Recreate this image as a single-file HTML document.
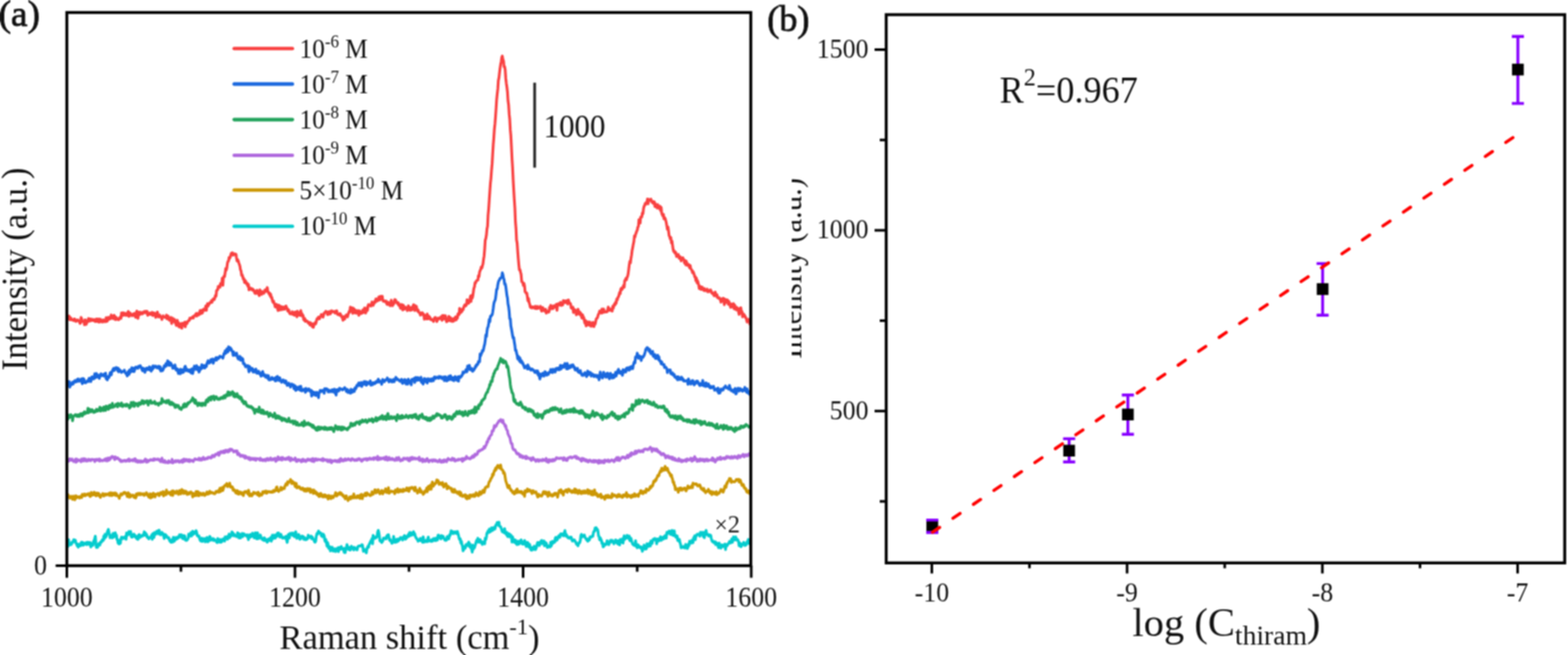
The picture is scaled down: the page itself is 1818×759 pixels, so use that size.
<!DOCTYPE html>
<html><head><meta charset="utf-8"><style>
html,body{margin:0;padding:0;background:#fff;}
svg{display:block;} 
text{font-family:"Liberation Serif","Times New Roman",serif;fill:#111;}
</style></head><body>
<svg width="1818" height="759" viewBox="0 0 1818 759">
<defs><clipPath id="cb"><rect x="918" y="0" width="120" height="759"/></clipPath>
<filter id="soft" filterUnits="userSpaceOnUse" x="0" y="0" width="1818" height="759" color-interpolation-filters="sRGB"><feConvolveMatrix order="3" kernelMatrix="0.0784 0.1232 0.0784 0.1232 0.1936 0.1232 0.0784 0.1232 0.0784" divisor="1" edgeMode="duplicate" preserveAlpha="true"/></filter></defs>
<g filter="url(#soft)">
<rect width="1818" height="759" fill="#fff"/>
<!-- panel a -->
<g fill="none" stroke-width="3.2" stroke-linejoin="round"><path d="M78.2,368.3 L78.9,369.4 L79.5,368.8 L80.2,366.2 L80.8,370.4 L81.5,369.9 L82.2,368.4 L82.8,370.7 L83.5,370.6 L84.1,370.7 L84.8,370.5 L85.5,371.6 L86.1,369.6 L86.8,370.8 L87.4,370.4 L88.1,372.5 L88.8,371.7 L89.4,371.3 L90.1,370.6 L90.7,371.7 L91.4,372.3 L92.1,371.9 L92.7,374.8 L93.4,374.4 L94.0,367.9 L94.7,369.4 L95.4,372.4 L96.0,371.9 L96.7,373.0 L97.3,373.0 L98.0,376.3 L98.7,370.5 L99.3,371.8 L100.0,375.9 L100.6,373.4 L101.3,373.3 L102.0,371.2 L102.6,369.1 L103.3,372.2 L103.9,372.1 L104.6,369.6 L105.3,370.5 L105.9,371.5 L106.6,369.9 L107.2,371.3 L107.9,371.5 L108.6,371.3 L109.2,370.3 L109.9,372.2 L110.5,372.6 L111.2,371.6 L111.9,369.6 L112.5,372.3 L113.2,370.2 L113.8,372.8 L114.5,369.6 L115.2,373.3 L115.8,371.9 L116.5,370.0 L117.1,371.8 L117.8,372.6 L118.5,373.1 L119.1,371.0 L119.8,370.7 L120.4,372.8 L121.1,371.4 L121.8,372.3 L122.4,372.8 L123.1,368.1 L123.7,371.0 L124.4,372.2 L125.1,369.0 L125.7,367.7 L126.4,370.0 L127.0,368.7 L127.7,369.5 L128.4,367.1 L129.0,365.0 L129.7,367.4 L130.3,366.9 L131.0,369.2 L131.7,368.4 L132.3,365.4 L133.0,366.4 L133.6,370.3 L134.3,370.2 L135.0,368.0 L135.6,369.3 L136.3,370.1 L136.9,370.0 L137.6,370.5 L138.3,369.1 L138.9,368.1 L139.6,367.3 L140.2,369.1 L140.9,362.7 L141.6,365.9 L142.2,365.6 L142.9,362.5 L143.5,365.1 L144.2,362.9 L144.9,365.2 L145.5,363.2 L146.2,364.5 L146.8,365.5 L147.5,364.0 L148.2,361.9 L148.8,360.9 L149.5,366.7 L150.1,363.6 L150.8,362.7 L151.5,364.4 L152.1,363.9 L152.8,365.9 L153.4,364.6 L154.1,364.7 L154.8,363.6 L155.4,365.7 L156.1,363.2 L156.7,366.2 L157.4,367.7 L158.1,362.2 L158.7,360.4 L159.4,365.7 L160.0,368.9 L160.7,362.4 L161.4,361.7 L162.0,364.7 L162.7,362.0 L163.3,362.3 L164.0,362.4 L164.7,363.8 L165.3,362.0 L166.0,363.1 L166.6,362.2 L167.3,361.0 L168.0,362.0 L168.6,360.9 L169.3,362.6 L169.9,360.7 L170.6,360.9 L171.3,365.5 L171.9,363.0 L172.6,363.1 L173.2,364.2 L173.9,362.7 L174.6,363.2 L175.2,364.5 L175.9,364.4 L176.5,362.0 L177.2,365.6 L177.9,363.3 L178.5,362.6 L179.2,363.0 L179.8,364.1 L180.5,367.8 L181.2,363.0 L181.8,365.5 L182.5,361.6 L183.1,365.6 L183.8,367.3 L184.5,365.5 L185.1,365.0 L185.8,366.6 L186.4,367.6 L187.1,367.7 L187.8,370.2 L188.4,367.3 L189.1,366.0 L189.7,367.0 L190.4,367.2 L191.1,367.7 L191.7,367.6 L192.4,368.1 L193.0,365.0 L193.7,369.5 L194.4,367.2 L195.0,366.3 L195.7,369.7 L196.3,371.1 L197.0,369.8 L197.7,369.5 L198.3,367.8 L199.0,374.9 L199.6,371.9 L200.3,368.9 L201.0,370.2 L201.6,372.3 L202.3,370.1 L202.9,373.9 L203.6,373.4 L204.3,377.0 L204.9,377.2 L205.6,371.2 L206.2,376.5 L206.9,373.9 L207.6,378.9 L208.2,377.3 L208.9,377.9 L209.5,375.0 L210.2,380.0 L210.9,380.2 L211.5,374.6 L212.2,377.0 L212.8,374.9 L213.5,375.8 L214.2,373.4 L214.8,378.7 L215.5,373.4 L216.1,374.2 L216.8,375.1 L217.5,372.5 L218.1,372.5 L218.8,371.3 L219.4,371.3 L220.1,368.7 L220.8,369.3 L221.4,369.0 L222.1,368.1 L222.7,368.3 L223.4,367.1 L224.1,368.6 L224.7,366.3 L225.4,366.3 L226.0,365.1 L226.7,365.0 L227.4,363.4 L228.0,366.3 L228.7,363.1 L229.3,363.5 L230.0,365.1 L230.7,364.8 L231.3,363.1 L232.0,359.8 L232.6,363.7 L233.3,362.9 L234.0,359.5 L234.6,362.8 L235.3,359.6 L235.9,358.3 L236.6,359.8 L237.3,358.6 L237.9,358.6 L238.6,354.5 L239.2,359.7 L239.9,354.5 L240.6,351.9 L241.2,354.8 L241.9,352.2 L242.5,352.6 L243.2,350.8 L243.9,350.6 L244.5,350.6 L245.2,348.3 L245.8,350.3 L246.5,347.7 L247.2,346.4 L247.8,347.3 L248.5,347.1 L249.1,345.0 L249.8,342.5 L250.5,343.2 L251.1,336.8 L251.8,335.8 L252.4,335.8 L253.1,331.9 L253.8,333.1 L254.4,331.9 L255.1,332.7 L255.7,328.5 L256.4,328.0 L257.1,328.6 L257.7,322.4 L258.4,330.6 L259.0,322.0 L259.7,319.9 L260.4,320.5 L261.0,316.6 L261.7,311.2 L262.3,313.0 L263.0,310.5 L263.7,305.1 L264.3,302.8 L265.0,302.4 L265.6,298.4 L266.3,299.4 L267.0,297.9 L267.6,295.3 L268.3,293.3 L268.9,294.7 L269.6,292.9 L270.3,295.7 L270.9,293.9 L271.6,294.9 L272.2,294.1 L272.9,295.2 L273.6,294.6 L274.2,298.7 L274.9,302.5 L275.5,300.7 L276.2,302.1 L276.9,304.7 L277.5,306.3 L278.2,308.4 L278.8,312.4 L279.5,314.1 L280.2,319.2 L280.8,318.5 L281.5,320.8 L282.1,323.5 L282.8,322.8 L283.5,327.3 L284.1,324.9 L284.8,325.8 L285.4,327.8 L286.1,329.4 L286.8,328.3 L287.4,331.7 L288.1,329.8 L288.7,336.0 L289.4,334.2 L290.1,333.8 L290.7,333.8 L291.4,335.2 L292.0,335.9 L292.7,334.8 L293.4,335.3 L294.0,337.0 L294.7,336.7 L295.3,339.5 L296.0,340.1 L296.7,338.3 L297.3,339.4 L298.0,336.4 L298.6,340.1 L299.3,339.2 L300.0,340.3 L300.6,342.5 L301.3,335.8 L301.9,340.4 L302.6,338.2 L303.3,341.2 L303.9,337.9 L304.6,339.2 L305.2,339.9 L305.9,340.0 L306.6,338.2 L307.2,335.9 L307.9,335.6 L308.5,337.6 L309.2,335.9 L309.9,333.2 L310.5,338.2 L311.2,338.4 L311.8,340.4 L312.5,339.5 L313.2,342.9 L313.8,340.9 L314.5,344.9 L315.1,344.4 L315.8,348.0 L316.5,350.2 L317.1,348.7 L317.8,351.3 L318.4,352.7 L319.1,355.7 L319.8,355.4 L320.4,352.6 L321.1,356.0 L321.7,357.0 L322.4,359.8 L323.1,353.5 L323.7,355.8 L324.4,359.3 L325.0,354.8 L325.7,355.2 L326.4,358.2 L327.0,358.9 L327.7,355.7 L328.3,357.4 L329.0,356.2 L329.7,358.4 L330.3,355.6 L331.0,357.5 L331.6,354.6 L332.3,356.5 L333.0,357.4 L333.6,360.5 L334.3,360.5 L334.9,359.2 L335.6,362.7 L336.3,363.7 L336.9,362.9 L337.6,363.3 L338.2,363.8 L338.9,361.2 L339.6,364.5 L340.2,364.5 L340.9,362.5 L341.5,365.3 L342.2,361.5 L342.9,362.8 L343.5,362.8 L344.2,367.1 L344.8,360.7 L345.5,364.4 L346.2,365.0 L346.8,364.0 L347.5,365.4 L348.1,361.7 L348.8,360.0 L349.5,366.0 L350.1,363.4 L350.8,365.9 L351.4,365.4 L352.1,370.3 L352.8,371.0 L353.4,369.0 L354.1,372.5 L354.7,371.6 L355.4,371.7 L356.1,372.5 L356.7,372.6 L357.4,374.5 L358.0,374.4 L358.7,373.7 L359.4,376.5 L360.0,374.0 L360.7,376.0 L361.3,376.5 L362.0,378.6 L362.7,375.2 L363.3,379.3 L364.0,376.5 L364.6,375.5 L365.3,374.0 L366.0,375.4 L366.6,373.4 L367.3,370.2 L367.9,369.0 L368.6,368.8 L369.3,367.4 L369.9,369.5 L370.6,369.1 L371.2,367.5 L371.9,366.2 L372.6,364.4 L373.2,364.8 L373.9,365.8 L374.5,367.6 L375.2,365.1 L375.9,362.6 L376.5,362.8 L377.2,361.6 L377.8,360.8 L378.5,361.5 L379.2,362.0 L379.8,364.6 L380.5,361.3 L381.1,363.4 L381.8,364.0 L382.5,361.0 L383.1,363.6 L383.8,362.1 L384.4,360.1 L385.1,361.4 L385.8,361.1 L386.4,360.9 L387.1,361.1 L387.7,361.9 L388.4,362.7 L389.1,360.7 L389.7,362.5 L390.4,360.1 L391.0,363.5 L391.7,364.5 L392.4,364.0 L393.0,364.5 L393.7,365.3 L394.3,363.4 L395.0,364.5 L395.7,366.2 L396.3,367.5 L397.0,366.9 L397.6,371.1 L398.3,366.8 L399.0,369.0 L399.6,369.7 L400.3,367.4 L400.9,366.1 L401.6,364.9 L402.3,366.5 L402.9,367.1 L403.6,364.4 L404.2,363.0 L404.9,360.8 L405.6,361.4 L406.2,355.8 L406.9,359.5 L407.5,359.1 L408.2,356.7 L408.9,363.1 L409.5,357.1 L410.2,358.0 L410.8,358.2 L411.5,362.6 L412.2,359.5 L412.8,362.7 L413.5,362.9 L414.1,362.6 L414.8,360.0 L415.5,361.4 L416.1,365.4 L416.8,360.2 L417.4,360.9 L418.1,361.9 L418.8,363.3 L419.4,362.1 L420.1,362.6 L420.7,359.1 L421.4,362.2 L422.1,361.2 L422.7,356.9 L423.4,362.0 L424.0,362.8 L424.7,357.0 L425.4,358.0 L426.0,359.9 L426.7,354.3 L427.3,352.9 L428.0,353.5 L428.7,354.1 L429.3,353.3 L430.0,354.7 L430.6,353.3 L431.3,349.9 L432.0,352.3 L432.6,353.9 L433.3,352.1 L433.9,351.1 L434.6,348.9 L435.3,350.2 L435.9,346.3 L436.6,348.8 L437.2,346.9 L437.9,348.6 L438.6,347.1 L439.2,344.0 L439.9,345.9 L440.5,347.6 L441.2,343.3 L441.9,344.3 L442.5,344.1 L443.2,343.2 L443.8,348.0 L444.5,349.2 L445.2,349.0 L445.8,348.7 L446.5,348.9 L447.1,350.0 L447.8,348.9 L448.5,352.3 L449.1,352.9 L449.8,352.9 L450.4,350.4 L451.1,351.4 L451.8,351.0 L452.4,354.3 L453.1,351.5 L453.7,347.8 L454.4,351.7 L455.1,354.2 L455.7,352.1 L456.4,352.3 L457.0,350.8 L457.7,347.2 L458.4,347.4 L459.0,348.3 L459.7,350.3 L460.3,351.0 L461.0,351.9 L461.7,350.6 L462.3,353.8 L463.0,352.7 L463.6,353.1 L464.3,357.1 L465.0,355.1 L465.6,352.9 L466.3,356.6 L466.9,359.1 L467.6,353.6 L468.3,358.3 L468.9,358.2 L469.6,356.2 L470.2,355.9 L470.9,357.4 L471.6,357.0 L472.2,360.0 L472.9,358.1 L473.5,354.4 L474.2,355.4 L474.9,357.9 L475.5,359.7 L476.2,356.8 L476.8,356.5 L477.5,359.1 L478.2,355.6 L478.8,355.1 L479.5,353.1 L480.1,354.9 L480.8,359.9 L481.5,354.0 L482.1,357.0 L482.8,355.1 L483.4,358.5 L484.1,360.5 L484.8,359.2 L485.4,361.6 L486.1,362.3 L486.7,362.4 L487.4,365.2 L488.1,364.0 L488.7,362.6 L489.4,362.4 L490.0,362.5 L490.7,365.2 L491.4,364.2 L492.0,370.0 L492.7,368.9 L493.3,365.6 L494.0,365.8 L494.7,369.7 L495.3,363.8 L496.0,366.6 L496.6,369.4 L497.3,366.4 L498.0,367.6 L498.6,368.1 L499.3,370.3 L499.9,369.7 L500.6,370.5 L501.3,371.1 L501.9,370.4 L502.6,372.6 L503.2,369.5 L503.9,368.4 L504.6,367.9 L505.2,368.1 L505.9,370.0 L506.5,372.7 L507.2,371.0 L507.9,369.5 L508.5,368.5 L509.2,369.2 L509.8,369.3 L510.5,368.8 L511.2,367.1 L511.8,368.6 L512.5,371.2 L513.1,365.5 L513.8,368.9 L514.5,365.6 L515.1,369.7 L515.8,368.1 L516.4,365.9 L517.1,369.8 L517.8,373.0 L518.4,370.1 L519.1,372.1 L519.7,370.1 L520.4,366.5 L521.1,371.3 L521.7,369.9 L522.4,368.1 L523.0,372.2 L523.7,371.4 L524.4,370.0 L525.0,372.5 L525.7,369.5 L526.3,371.9 L527.0,368.7 L527.7,370.7 L528.3,367.1 L529.0,370.8 L529.6,367.7 L530.3,368.7 L531.0,363.7 L531.6,363.3 L532.3,364.6 L532.9,357.3 L533.6,359.4 L534.3,362.3 L534.9,360.7 L535.6,360.9 L536.2,358.1 L536.9,359.0 L537.6,356.2 L538.2,354.5 L538.9,353.3 L539.5,354.7 L540.2,354.1 L540.9,353.2 L541.5,347.3 L542.2,349.2 L542.8,350.9 L543.5,351.4 L544.2,348.7 L544.8,347.0 L545.5,343.2 L546.1,349.3 L546.8,342.3 L547.5,345.5 L548.1,343.4 L548.8,338.6 L549.4,334.2 L550.1,332.5 L550.8,327.6 L551.4,328.0 L552.1,325.8 L552.7,325.2 L553.4,324.6 L554.1,324.6 L554.7,319.5 L555.4,320.5 L556.0,315.6 L556.7,313.5 L557.4,312.0 L558.0,309.4 L558.7,310.7 L559.3,308.1 L560.0,305.8 L560.7,300.2 L561.3,296.7 L562.0,288.2 L562.6,278.5 L563.3,276.3 L564.0,272.1 L564.6,265.4 L565.3,262.0 L565.9,249.1 L566.6,241.8 L567.3,231.2 L567.9,222.4 L568.6,212.4 L569.2,207.1 L569.9,197.5 L570.6,189.7 L571.2,179.0 L571.9,167.6 L572.5,160.3 L573.2,149.7 L573.9,143.4 L574.5,135.7 L575.2,125.5 L575.8,115.8 L576.5,108.9 L577.2,102.9 L577.8,93.4 L578.5,90.1 L579.1,84.9 L579.8,79.0 L580.5,74.6 L581.1,71.3 L581.8,66.4 L582.4,65.0 L583.1,68.8 L583.8,70.7 L584.4,77.4 L585.1,77.3 L585.7,80.5 L586.4,90.7 L587.1,96.9 L587.7,100.8 L588.4,106.7 L589.0,116.6 L589.7,121.5 L590.4,132.4 L591.0,138.0 L591.7,150.7 L592.3,157.1 L593.0,170.5 L593.7,184.8 L594.3,194.0 L595.0,208.8 L595.6,219.3 L596.3,231.2 L597.0,241.4 L597.6,256.7 L598.3,265.2 L598.9,277.9 L599.6,281.8 L600.3,291.9 L600.9,299.6 L601.6,307.4 L602.2,312.8 L602.9,312.7 L603.6,315.7 L604.2,318.0 L604.9,326.4 L605.5,326.5 L606.2,327.8 L606.9,331.0 L607.5,328.4 L608.2,331.7 L608.8,338.0 L609.5,338.7 L610.2,339.9 L610.8,339.6 L611.5,344.3 L612.1,348.6 L612.8,345.9 L613.5,350.7 L614.1,352.3 L614.8,355.7 L615.4,356.4 L616.1,356.6 L616.8,355.3 L617.4,356.8 L618.1,355.6 L618.7,356.3 L619.4,356.3 L620.1,357.4 L620.7,355.0 L621.4,355.3 L622.0,357.7 L622.7,355.3 L623.4,355.2 L624.0,357.3 L624.7,356.5 L625.3,356.5 L626.0,357.1 L626.7,355.0 L627.3,358.4 L628.0,360.5 L628.6,359.7 L629.3,356.4 L630.0,360.0 L630.6,358.3 L631.3,359.8 L631.9,360.7 L632.6,358.4 L633.3,362.8 L633.9,360.2 L634.6,361.5 L635.2,361.0 L635.9,361.8 L636.6,361.2 L637.2,356.0 L637.9,358.2 L638.5,353.8 L639.2,356.2 L639.9,357.7 L640.5,357.6 L641.2,357.7 L641.8,354.3 L642.5,355.0 L643.2,354.2 L643.8,356.0 L644.5,356.2 L645.1,352.6 L645.8,359.6 L646.5,352.7 L647.1,351.9 L647.8,353.3 L648.4,353.4 L649.1,352.8 L649.8,350.4 L650.4,354.0 L651.1,351.3 L651.7,353.7 L652.4,353.3 L653.1,348.4 L653.7,348.8 L654.4,348.6 L655.0,350.7 L655.7,350.2 L656.4,350.5 L657.0,348.5 L657.7,350.7 L658.3,352.3 L659.0,347.5 L659.7,349.8 L660.3,351.2 L661.0,351.4 L661.6,352.3 L662.3,356.9 L663.0,357.2 L663.6,357.6 L664.3,355.9 L664.9,362.2 L665.6,359.7 L666.3,358.7 L666.9,359.6 L667.6,359.8 L668.2,364.8 L668.9,361.8 L669.6,361.9 L670.2,358.3 L670.9,363.8 L671.5,361.1 L672.2,361.4 L672.9,365.0 L673.5,363.1 L674.2,367.0 L674.8,368.7 L675.5,364.8 L676.2,369.0 L676.8,367.7 L677.5,371.6 L678.1,374.4 L678.8,371.3 L679.5,377.6 L680.1,374.2 L680.8,372.9 L681.4,374.9 L682.1,376.7 L682.8,373.0 L683.4,375.6 L684.1,373.3 L684.7,377.9 L685.4,376.2 L686.1,375.2 L686.7,377.8 L687.4,373.7 L688.0,375.0 L688.7,378.4 L689.4,374.1 L690.0,375.6 L690.7,372.4 L691.3,369.5 L692.0,368.9 L692.7,368.1 L693.3,365.9 L694.0,363.9 L694.6,362.8 L695.3,360.5 L696.0,362.5 L696.6,362.5 L697.3,362.8 L697.9,358.0 L698.6,362.4 L699.3,360.7 L699.9,358.1 L700.6,360.6 L701.2,361.7 L701.9,361.1 L702.6,361.3 L703.2,361.5 L703.9,361.3 L704.5,359.5 L705.2,355.8 L705.9,357.9 L706.5,359.7 L707.2,358.0 L707.8,359.7 L708.5,359.6 L709.2,357.9 L709.8,360.5 L710.5,354.8 L711.1,357.2 L711.8,353.8 L712.5,352.1 L713.1,353.4 L713.8,350.1 L714.4,351.4 L715.1,346.6 L715.8,347.4 L716.4,344.5 L717.1,344.0 L717.7,342.0 L718.4,338.9 L719.1,340.3 L719.7,335.2 L720.4,334.0 L721.0,335.7 L721.7,334.5 L722.4,332.6 L723.0,330.7 L723.7,332.8 L724.3,325.3 L725.0,324.7 L725.7,322.6 L726.3,324.3 L727.0,321.3 L727.6,320.5 L728.3,317.4 L729.0,311.9 L729.6,307.0 L730.3,302.8 L730.9,304.8 L731.6,299.2 L732.3,295.2 L732.9,290.1 L733.6,286.9 L734.2,283.3 L734.9,280.2 L735.6,273.4 L736.2,274.7 L736.9,271.5 L737.5,270.2 L738.2,267.8 L738.9,266.7 L739.5,263.1 L740.2,262.5 L740.8,254.6 L741.5,255.3 L742.2,258.5 L742.8,251.5 L743.5,251.4 L744.1,251.4 L744.8,246.8 L745.5,247.7 L746.1,241.9 L746.8,239.0 L747.4,238.1 L748.1,235.6 L748.8,236.7 L749.4,234.5 L750.1,234.3 L750.7,230.7 L751.4,236.2 L752.1,231.2 L752.7,231.2 L753.4,232.2 L754.0,231.2 L754.7,230.8 L755.4,232.5 L756.0,234.4 L756.7,234.5 L757.3,235.6 L758.0,233.6 L758.7,233.9 L759.3,239.4 L760.0,236.1 L760.6,238.1 L761.3,239.2 L762.0,241.1 L762.6,237.1 L763.3,239.4 L763.9,240.4 L764.6,241.7 L765.3,239.0 L765.9,244.1 L766.6,240.4 L767.2,247.2 L767.9,248.8 L768.6,250.3 L769.2,248.4 L769.9,253.7 L770.5,252.0 L771.2,253.1 L771.9,255.5 L772.5,258.0 L773.2,262.1 L773.8,265.7 L774.5,263.0 L775.2,268.2 L775.8,273.1 L776.5,274.2 L777.1,276.8 L777.8,275.3 L778.5,281.6 L779.1,279.2 L779.8,284.4 L780.4,288.5 L781.1,291.4 L781.8,290.8 L782.4,293.1 L783.1,292.0 L783.7,293.4 L784.4,297.3 L785.1,296.0 L785.7,296.5 L786.4,294.8 L787.0,298.1 L787.7,299.4 L788.4,297.3 L789.0,298.2 L789.7,302.3 L790.3,300.2 L791.0,299.8 L791.7,298.7 L792.3,300.1 L793.0,301.2 L793.6,304.7 L794.3,301.8 L795.0,306.8 L795.6,302.7 L796.3,304.5 L796.9,307.4 L797.6,306.4 L798.3,306.3 L798.9,308.4 L799.6,310.4 L800.2,307.6 L800.9,311.2 L801.6,312.4 L802.2,312.9 L802.9,316.0 L803.5,314.7 L804.2,316.2 L804.9,318.2 L805.5,320.8 L806.2,320.6 L806.8,325.2 L807.5,322.4 L808.2,327.8 L808.8,325.4 L809.5,328.0 L810.1,330.3 L810.8,334.4 L811.5,333.4 L812.1,331.9 L812.8,335.5 L813.4,333.3 L814.1,332.6 L814.8,335.2 L815.4,334.9 L816.1,336.7 L816.7,334.3 L817.4,336.1 L818.1,336.8 L818.7,336.4 L819.4,336.0 L820.0,335.0 L820.7,338.1 L821.4,336.9 L822.0,337.8 L822.7,336.5 L823.3,337.4 L824.0,335.9 L824.7,338.2 L825.3,339.7 L826.0,339.0 L826.6,340.8 L827.3,340.3 L828.0,342.7 L828.6,340.5 L829.3,338.5 L829.9,342.8 L830.6,342.3 L831.3,341.5 L831.9,344.9 L832.6,344.8 L833.2,345.7 L833.9,344.9 L834.6,346.4 L835.2,347.0 L835.9,350.2 L836.5,346.3 L837.2,347.8 L837.9,348.9 L838.5,345.6 L839.2,346.1 L839.8,353.1 L840.5,346.5 L841.2,350.9 L841.8,348.7 L842.5,349.1 L843.1,347.3 L843.8,349.5 L844.5,352.7 L845.1,349.2 L845.8,353.0 L846.4,352.9 L847.1,356.2 L847.8,352.2 L848.4,355.7 L849.1,355.4 L849.7,353.8 L850.4,351.8 L851.1,357.8 L851.7,353.3 L852.4,355.3 L853.0,358.2 L853.7,359.1 L854.4,356.2 L855.0,358.1 L855.7,358.3 L856.3,361.4 L857.0,364.3 L857.7,357.3 L858.3,362.7 L859.0,356.7 L859.6,362.4 L860.3,361.0 L861.0,367.2 L861.6,364.7 L862.3,363.9 L862.9,365.1 L863.6,365.8 L864.3,368.0 L864.9,368.3 L865.6,370.6 L866.2,373.1 L866.9,372.5 L867.6,370.0 L868.2,370.1 L868.9,372.5 L869.5,376.5" stroke="#f94141"/><path d="M78.2,447.6 L78.9,446.0 L79.5,445.8 L80.2,442.0 L80.8,448.6 L81.5,447.1 L82.2,444.3 L82.8,445.7 L83.5,444.5 L84.1,442.8 L84.8,445.0 L85.5,442.5 L86.1,442.1 L86.8,441.0 L87.4,442.7 L88.1,441.4 L88.8,442.2 L89.4,440.0 L90.1,441.0 L90.7,439.1 L91.4,441.9 L92.1,440.8 L92.7,441.1 L93.4,441.4 L94.0,439.2 L94.7,442.3 L95.4,444.6 L96.0,438.7 L96.7,438.8 L97.3,439.3 L98.0,443.3 L98.7,442.1 L99.3,443.6 L100.0,442.9 L100.6,441.9 L101.3,441.7 L102.0,440.7 L102.6,442.1 L103.3,438.4 L103.9,439.2 L104.6,440.0 L105.3,442.2 L105.9,437.6 L106.6,436.7 L107.2,437.1 L107.9,439.2 L108.6,436.7 L109.2,438.8 L109.9,433.0 L110.5,437.6 L111.2,437.1 L111.9,432.8 L112.5,435.2 L113.2,436.9 L113.8,434.9 L114.5,436.3 L115.2,438.5 L115.8,435.0 L116.5,434.0 L117.1,433.1 L117.8,435.4 L118.5,434.0 L119.1,434.0 L119.8,434.2 L120.4,435.8 L121.1,433.4 L121.8,433.2 L122.4,432.4 L123.1,439.0 L123.7,437.6 L124.4,440.2 L125.1,437.7 L125.7,436.1 L126.4,437.3 L127.0,435.3 L127.7,432.1 L128.4,431.4 L129.0,434.4 L129.7,430.8 L130.3,429.9 L131.0,428.0 L131.7,426.9 L132.3,429.4 L133.0,427.6 L133.6,426.4 L134.3,427.4 L135.0,426.0 L135.6,427.8 L136.3,429.5 L136.9,426.6 L137.6,430.9 L138.3,428.1 L138.9,430.2 L139.6,429.3 L140.2,430.8 L140.9,431.6 L141.6,430.9 L142.2,430.4 L142.9,430.5 L143.5,430.2 L144.2,429.0 L144.9,431.2 L145.5,432.3 L146.2,433.1 L146.8,432.7 L147.5,435.6 L148.2,431.9 L148.8,430.5 L149.5,434.0 L150.1,428.9 L150.8,431.9 L151.5,428.4 L152.1,430.2 L152.8,426.0 L153.4,430.4 L154.1,428.3 L154.8,426.6 L155.4,430.6 L156.1,428.7 L156.7,427.0 L157.4,425.3 L158.1,426.1 L158.7,425.6 L159.4,426.8 L160.0,426.7 L160.7,424.3 L161.4,424.6 L162.0,424.9 L162.7,423.8 L163.3,425.4 L164.0,426.6 L164.7,428.3 L165.3,429.7 L166.0,426.5 L166.6,428.9 L167.3,427.4 L168.0,431.5 L168.6,428.0 L169.3,428.9 L169.9,426.5 L170.6,426.6 L171.3,428.2 L171.9,427.2 L172.6,428.3 L173.2,425.1 L173.9,428.6 L174.6,426.0 L175.2,430.1 L175.9,426.5 L176.5,428.5 L177.2,424.0 L177.9,426.6 L178.5,424.1 L179.2,424.4 L179.8,425.0 L180.5,424.2 L181.2,425.1 L181.8,426.1 L182.5,426.3 L183.1,425.7 L183.8,424.3 L184.5,426.0 L185.1,427.7 L185.8,425.0 L186.4,430.0 L187.1,428.4 L187.8,428.0 L188.4,429.5 L189.1,428.4 L189.7,426.8 L190.4,423.9 L191.1,425.2 L191.7,424.4 L192.4,421.5 L193.0,424.0 L193.7,422.6 L194.4,418.1 L195.0,421.5 L195.7,419.3 L196.3,423.5 L197.0,423.3 L197.7,420.5 L198.3,421.3 L199.0,423.5 L199.6,423.4 L200.3,426.8 L201.0,426.0 L201.6,424.8 L202.3,426.7 L202.9,422.9 L203.6,427.3 L204.3,428.8 L204.9,427.6 L205.6,427.3 L206.2,430.0 L206.9,432.8 L207.6,430.4 L208.2,428.6 L208.9,433.1 L209.5,427.8 L210.2,431.7 L210.9,429.7 L211.5,431.8 L212.2,428.4 L212.8,431.3 L213.5,429.1 L214.2,425.2 L214.8,424.4 L215.5,427.0 L216.1,429.7 L216.8,428.0 L217.5,428.3 L218.1,428.3 L218.8,430.4 L219.4,430.2 L220.1,430.4 L220.8,428.5 L221.4,432.1 L222.1,432.2 L222.7,427.4 L223.4,432.8 L224.1,429.6 L224.7,427.0 L225.4,424.2 L226.0,428.0 L226.7,427.7 L227.4,425.7 L228.0,423.7 L228.7,428.4 L229.3,425.6 L230.0,425.7 L230.7,431.2 L231.3,430.0 L232.0,428.0 L232.6,425.7 L233.3,427.4 L234.0,422.6 L234.6,426.5 L235.3,425.0 L235.9,424.0 L236.6,423.4 L237.3,426.5 L237.9,425.2 L238.6,424.6 L239.2,424.9 L239.9,421.2 L240.6,419.7 L241.2,417.9 L241.9,419.6 L242.5,420.8 L243.2,418.9 L243.9,419.9 L244.5,416.7 L245.2,417.6 L245.8,417.0 L246.5,416.0 L247.2,420.9 L247.8,419.1 L248.5,416.3 L249.1,416.1 L249.8,417.0 L250.5,414.5 L251.1,417.4 L251.8,414.4 L252.4,415.7 L253.1,414.4 L253.8,415.1 L254.4,413.4 L255.1,412.7 L255.7,413.4 L256.4,413.5 L257.1,413.7 L257.7,413.6 L258.4,415.0 L259.0,412.6 L259.7,409.6 L260.4,410.1 L261.0,406.7 L261.7,409.5 L262.3,407.7 L263.0,404.4 L263.7,407.8 L264.3,407.8 L265.0,401.9 L265.6,405.0 L266.3,405.4 L267.0,403.0 L267.6,404.4 L268.3,404.5 L268.9,407.0 L269.6,407.2 L270.3,411.8 L270.9,407.7 L271.6,411.3 L272.2,410.5 L272.9,411.7 L273.6,409.9 L274.2,409.1 L274.9,411.4 L275.5,414.3 L276.2,416.0 L276.9,414.7 L277.5,414.8 L278.2,413.0 L278.8,417.3 L279.5,417.4 L280.2,414.9 L280.8,416.5 L281.5,416.0 L282.1,421.4 L282.8,421.0 L283.5,421.6 L284.1,423.8 L284.8,425.0 L285.4,424.5 L286.1,423.7 L286.8,424.0 L287.4,423.7 L288.1,427.7 L288.7,430.9 L289.4,424.7 L290.1,428.0 L290.7,428.7 L291.4,426.7 L292.0,428.9 L292.7,427.0 L293.4,431.1 L294.0,428.5 L294.7,429.9 L295.3,431.2 L296.0,429.7 L296.7,427.7 L297.3,430.1 L298.0,432.5 L298.6,431.4 L299.3,432.2 L300.0,430.2 L300.6,432.5 L301.3,433.6 L301.9,432.7 L302.6,435.9 L303.3,432.5 L303.9,431.3 L304.6,430.5 L305.2,435.2 L305.9,433.4 L306.6,435.4 L307.2,434.8 L307.9,437.1 L308.5,437.0 L309.2,434.9 L309.9,436.5 L310.5,438.4 L311.2,435.2 L311.8,440.1 L312.5,440.2 L313.2,440.2 L313.8,438.6 L314.5,439.6 L315.1,437.3 L315.8,439.3 L316.5,438.3 L317.1,439.4 L317.8,438.5 L318.4,439.8 L319.1,441.4 L319.8,437.3 L320.4,441.1 L321.1,436.4 L321.7,436.2 L322.4,439.7 L323.1,440.1 L323.7,441.0 L324.4,437.7 L325.0,440.5 L325.7,441.0 L326.4,443.1 L327.0,441.1 L327.7,442.4 L328.3,440.2 L329.0,441.7 L329.7,441.6 L330.3,443.7 L331.0,441.2 L331.6,441.7 L332.3,444.3 L333.0,446.6 L333.6,444.6 L334.3,444.7 L334.9,444.0 L335.6,446.7 L336.3,446.1 L336.9,448.5 L337.6,446.6 L338.2,444.9 L338.9,446.0 L339.6,445.8 L340.2,445.8 L340.9,450.4 L341.5,450.1 L342.2,447.1 L342.9,452.5 L343.5,450.4 L344.2,448.8 L344.8,451.3 L345.5,450.9 L346.2,449.9 L346.8,448.2 L347.5,451.7 L348.1,452.2 L348.8,447.6 L349.5,452.8 L350.1,453.0 L350.8,451.3 L351.4,452.4 L352.1,451.8 L352.8,450.9 L353.4,451.8 L354.1,454.6 L354.7,450.1 L355.4,452.9 L356.1,452.9 L356.7,451.5 L357.4,452.1 L358.0,450.6 L358.7,451.6 L359.4,453.2 L360.0,454.0 L360.7,452.2 L361.3,459.0 L362.0,453.4 L362.7,454.8 L363.3,454.6 L364.0,454.6 L364.6,457.7 L365.3,455.0 L366.0,458.2 L366.6,458.1 L367.3,454.6 L367.9,458.1 L368.6,455.3 L369.3,460.8 L369.9,455.4 L370.6,454.3 L371.2,452.4 L371.9,453.1 L372.6,453.9 L373.2,452.9 L373.9,452.2 L374.5,452.7 L375.2,453.3 L375.9,455.7 L376.5,450.4 L377.2,452.1 L377.8,451.4 L378.5,450.5 L379.2,450.9 L379.8,451.5 L380.5,454.2 L381.1,452.7 L381.8,452.1 L382.5,454.0 L383.1,453.5 L383.8,452.6 L384.4,453.6 L385.1,451.6 L385.8,454.0 L386.4,453.8 L387.1,452.3 L387.7,451.0 L388.4,455.5 L389.1,453.1 L389.7,457.9 L390.4,451.7 L391.0,453.9 L391.7,451.5 L392.4,452.3 L393.0,452.9 L393.7,449.9 L394.3,450.7 L395.0,450.9 L395.7,450.6 L396.3,451.2 L397.0,451.9 L397.6,451.6 L398.3,450.9 L399.0,450.1 L399.6,449.2 L400.3,450.3 L400.9,451.1 L401.6,453.5 L402.3,452.3 L402.9,451.3 L403.6,454.9 L404.2,452.9 L404.9,453.3 L405.6,454.4 L406.2,455.7 L406.9,451.0 L407.5,453.0 L408.2,454.7 L408.9,453.2 L409.5,451.7 L410.2,451.4 L410.8,453.7 L411.5,449.7 L412.2,450.7 L412.8,449.9 L413.5,446.9 L414.1,447.6 L414.8,445.5 L415.5,444.7 L416.1,443.6 L416.8,446.8 L417.4,444.5 L418.1,444.2 L418.8,443.1 L419.4,447.9 L420.1,446.1 L420.7,444.6 L421.4,443.6 L422.1,442.1 L422.7,445.1 L423.4,445.0 L424.0,442.2 L424.7,446.4 L425.4,445.7 L426.0,442.8 L426.7,443.4 L427.3,443.6 L428.0,444.5 L428.7,443.9 L429.3,441.4 L430.0,446.4 L430.6,444.4 L431.3,445.9 L432.0,445.8 L432.6,443.3 L433.3,444.1 L433.9,444.7 L434.6,444.7 L435.3,443.0 L435.9,442.2 L436.6,443.2 L437.2,441.7 L437.9,442.0 L438.6,439.4 L439.2,442.8 L439.9,440.9 L440.5,441.6 L441.2,442.3 L441.9,442.8 L442.5,445.3 L443.2,442.4 L443.8,439.7 L444.5,442.1 L445.2,440.8 L445.8,442.3 L446.5,440.4 L447.1,440.2 L447.8,440.4 L448.5,440.1 L449.1,438.0 L449.8,439.8 L450.4,440.7 L451.1,442.6 L451.8,440.0 L452.4,439.8 L453.1,441.2 L453.7,441.1 L454.4,442.7 L455.1,441.0 L455.7,439.9 L456.4,442.1 L457.0,442.4 L457.7,439.1 L458.4,440.2 L459.0,437.2 L459.7,439.5 L460.3,438.7 L461.0,440.0 L461.7,439.7 L462.3,440.4 L463.0,440.7 L463.6,441.8 L464.3,441.6 L465.0,440.5 L465.6,439.5 L466.3,443.8 L466.9,444.3 L467.6,441.4 L468.3,443.2 L468.9,439.9 L469.6,439.9 L470.2,442.1 L470.9,445.0 L471.6,440.9 L472.2,441.2 L472.9,445.2 L473.5,439.3 L474.2,443.4 L474.9,443.0 L475.5,441.7 L476.2,442.1 L476.8,446.0 L477.5,439.6 L478.2,440.7 L478.8,440.7 L479.5,439.7 L480.1,438.5 L480.8,443.2 L481.5,440.7 L482.1,437.3 L482.8,438.9 L483.4,440.7 L484.1,440.6 L484.8,437.5 L485.4,439.8 L486.1,440.4 L486.7,440.6 L487.4,440.7 L488.1,437.1 L488.7,443.2 L489.4,440.6 L490.0,443.3 L490.7,445.1 L491.4,440.2 L492.0,438.6 L492.7,442.1 L493.3,440.5 L494.0,440.2 L494.7,439.3 L495.3,443.9 L496.0,440.4 L496.6,438.9 L497.3,440.5 L498.0,439.4 L498.6,441.6 L499.3,440.5 L499.9,439.2 L500.6,441.6 L501.3,439.0 L501.9,440.7 L502.6,441.0 L503.2,437.7 L503.9,436.7 L504.6,437.7 L505.2,438.6 L505.9,437.1 L506.5,437.3 L507.2,437.1 L507.9,437.7 L508.5,438.3 L509.2,436.2 L509.8,436.6 L510.5,437.6 L511.2,436.5 L511.8,437.9 L512.5,438.7 L513.1,437.8 L513.8,437.0 L514.5,436.8 L515.1,441.1 L515.8,439.7 L516.4,436.5 L517.1,437.0 L517.8,441.5 L518.4,441.0 L519.1,438.7 L519.7,440.4 L520.4,436.0 L521.1,438.5 L521.7,439.7 L522.4,435.4 L523.0,437.2 L523.7,439.8 L524.4,440.4 L525.0,437.5 L525.7,439.0 L526.3,441.1 L527.0,437.9 L527.7,436.3 L528.3,438.4 L529.0,437.9 L529.6,440.6 L530.3,438.6 L531.0,436.7 L531.6,441.7 L532.3,436.4 L532.9,437.6 L533.6,437.4 L534.3,437.0 L534.9,435.4 L535.6,435.5 L536.2,433.8 L536.9,431.0 L537.6,432.4 L538.2,431.7 L538.9,431.0 L539.5,430.6 L540.2,428.5 L540.9,430.9 L541.5,430.7 L542.2,424.0 L542.8,427.5 L543.5,426.4 L544.2,423.3 L544.8,428.4 L545.5,426.8 L546.1,427.3 L546.8,427.0 L547.5,429.9 L548.1,430.2 L548.8,428.6 L549.4,428.9 L550.1,427.0 L550.8,426.6 L551.4,424.2 L552.1,424.5 L552.7,422.3 L553.4,422.7 L554.1,421.8 L554.7,419.0 L555.4,418.6 L556.0,419.3 L556.7,410.0 L557.4,412.2 L558.0,410.0 L558.7,408.9 L559.3,406.0 L560.0,406.8 L560.7,404.4 L561.3,401.3 L562.0,398.8 L562.6,394.8 L563.3,388.2 L564.0,390.1 L564.6,384.1 L565.3,379.7 L565.9,378.9 L566.6,374.8 L567.3,370.0 L567.9,372.9 L568.6,366.6 L569.2,366.9 L569.9,365.2 L570.6,364.9 L571.2,362.0 L571.9,357.3 L572.5,352.4 L573.2,349.5 L573.9,348.3 L574.5,345.9 L575.2,340.4 L575.8,335.2 L576.5,335.0 L577.2,329.9 L577.8,327.1 L578.5,325.0 L579.1,324.6 L579.8,322.5 L580.5,322.3 L581.1,321.9 L581.8,320.4 L582.4,316.2 L583.1,318.2 L583.8,322.6 L584.4,323.7 L585.1,329.3 L585.7,328.6 L586.4,331.8 L587.1,337.3 L587.7,342.1 L588.4,345.3 L589.0,352.2 L589.7,355.3 L590.4,361.0 L591.0,369.3 L591.7,369.4 L592.3,377.5 L593.0,381.1 L593.7,385.1 L594.3,389.0 L595.0,391.9 L595.6,391.0 L596.3,396.4 L597.0,400.4 L597.6,406.2 L598.3,405.8 L598.9,409.0 L599.6,411.6 L600.3,415.9 L600.9,412.7 L601.6,414.0 L602.2,418.4 L602.9,414.9 L603.6,419.9 L604.2,419.4 L604.9,418.3 L605.5,420.9 L606.2,420.6 L606.9,423.2 L607.5,424.0 L608.2,426.4 L608.8,424.3 L609.5,424.9 L610.2,424.2 L610.8,425.4 L611.5,427.5 L612.1,422.9 L612.8,427.5 L613.5,425.8 L614.1,427.0 L614.8,427.7 L615.4,428.9 L616.1,428.1 L616.8,427.4 L617.4,428.9 L618.1,428.7 L618.7,428.8 L619.4,429.9 L620.1,431.5 L620.7,430.9 L621.4,431.5 L622.0,429.7 L622.7,432.2 L623.4,429.9 L624.0,434.6 L624.7,432.2 L625.3,436.2 L626.0,439.1 L626.7,433.5 L627.3,436.4 L628.0,434.8 L628.6,433.1 L629.3,432.5 L630.0,434.7 L630.6,435.9 L631.3,434.0 L631.9,430.7 L632.6,431.3 L633.3,432.4 L633.9,434.8 L634.6,432.8 L635.2,432.7 L635.9,433.9 L636.6,431.3 L637.2,431.3 L637.9,430.9 L638.5,428.0 L639.2,431.5 L639.9,431.1 L640.5,431.8 L641.2,427.9 L641.8,428.2 L642.5,430.8 L643.2,429.5 L643.8,431.0 L644.5,427.0 L645.1,428.5 L645.8,426.8 L646.5,428.1 L647.1,426.5 L647.8,427.9 L648.4,428.6 L649.1,427.6 L649.8,423.3 L650.4,427.6 L651.1,426.5 L651.7,423.8 L652.4,423.7 L653.1,424.9 L653.7,425.5 L654.4,423.5 L655.0,421.2 L655.7,424.1 L656.4,423.7 L657.0,427.4 L657.7,421.2 L658.3,427.5 L659.0,426.3 L659.7,424.0 L660.3,426.4 L661.0,424.1 L661.6,425.7 L662.3,423.2 L663.0,424.8 L663.6,423.3 L664.3,422.7 L664.9,425.1 L665.6,424.8 L666.3,427.2 L666.9,428.8 L667.6,427.0 L668.2,428.1 L668.9,429.1 L669.6,426.8 L670.2,430.8 L670.9,431.2 L671.5,431.7 L672.2,430.5 L672.9,429.4 L673.5,432.4 L674.2,433.3 L674.8,434.9 L675.5,434.5 L676.2,435.0 L676.8,433.1 L677.5,434.2 L678.1,431.9 L678.8,433.2 L679.5,433.6 L680.1,436.5 L680.8,432.4 L681.4,430.0 L682.1,434.5 L682.8,431.1 L683.4,432.5 L684.1,432.4 L684.7,431.7 L685.4,435.8 L686.1,434.9 L686.7,433.3 L687.4,434.8 L688.0,434.3 L688.7,436.4 L689.4,435.1 L690.0,434.7 L690.7,435.1 L691.3,435.6 L692.0,436.9 L692.7,434.9 L693.3,436.2 L694.0,437.0 L694.6,440.1 L695.3,437.5 L696.0,431.0 L696.6,435.0 L697.3,435.0 L697.9,436.1 L698.6,438.0 L699.3,436.5 L699.9,431.3 L700.6,435.5 L701.2,435.1 L701.9,435.6 L702.6,437.1 L703.2,433.1 L703.9,436.8 L704.5,432.3 L705.2,435.2 L705.9,435.8 L706.5,439.0 L707.2,434.2 L707.8,432.6 L708.5,436.7 L709.2,434.5 L709.8,438.2 L710.5,434.5 L711.1,434.3 L711.8,437.6 L712.5,435.3 L713.1,436.2 L713.8,431.4 L714.4,435.7 L715.1,431.2 L715.8,432.8 L716.4,429.2 L717.1,428.0 L717.7,430.0 L718.4,430.5 L719.1,432.7 L719.7,430.6 L720.4,431.1 L721.0,430.9 L721.7,434.9 L722.4,428.4 L723.0,431.7 L723.7,429.3 L724.3,429.8 L725.0,428.4 L725.7,431.0 L726.3,426.8 L727.0,426.5 L727.6,428.1 L728.3,426.2 L729.0,428.9 L729.6,428.9 L730.3,425.7 L730.9,427.7 L731.6,424.8 L732.3,425.3 L732.9,424.7 L733.6,427.2 L734.2,423.4 L734.9,420.8 L735.6,419.1 L736.2,420.5 L736.9,413.7 L737.5,413.9 L738.2,412.9 L738.9,409.2 L739.5,412.5 L740.2,415.1 L740.8,414.0 L741.5,412.4 L742.2,415.2 L742.8,415.2 L743.5,417.8 L744.1,413.4 L744.8,413.9 L745.5,414.1 L746.1,412.8 L746.8,411.9 L747.4,410.1 L748.1,407.6 L748.8,404.6 L749.4,405.1 L750.1,402.8 L750.7,402.8 L751.4,403.7 L752.1,405.8 L752.7,407.1 L753.4,404.9 L754.0,408.1 L754.7,409.9 L755.4,409.4 L756.0,407.5 L756.7,407.2 L757.3,412.6 L758.0,413.2 L758.7,412.6 L759.3,410.8 L760.0,415.4 L760.6,415.4 L761.3,413.8 L762.0,413.9 L762.6,411.6 L763.3,416.6 L763.9,413.3 L764.6,417.8 L765.3,418.6 L765.9,418.3 L766.6,421.6 L767.2,419.3 L767.9,421.6 L768.6,422.7 L769.2,422.7 L769.9,422.4 L770.5,426.0 L771.2,425.5 L771.9,425.4 L772.5,426.2 L773.2,427.5 L773.8,431.8 L774.5,429.0 L775.2,429.2 L775.8,428.6 L776.5,429.1 L777.1,428.7 L777.8,432.9 L778.5,433.3 L779.1,432.2 L779.8,432.1 L780.4,434.6 L781.1,434.8 L781.8,433.9 L782.4,437.0 L783.1,437.1 L783.7,437.1 L784.4,438.7 L785.1,436.6 L785.7,440.2 L786.4,436.5 L787.0,439.3 L787.7,439.7 L788.4,438.5 L789.0,439.7 L789.7,437.2 L790.3,437.1 L791.0,439.5 L791.7,438.8 L792.3,441.2 L793.0,440.5 L793.6,441.7 L794.3,441.5 L795.0,441.5 L795.6,441.5 L796.3,440.9 L796.9,441.0 L797.6,445.3 L798.3,439.2 L798.9,442.0 L799.6,444.2 L800.2,443.4 L800.9,445.1 L801.6,443.9 L802.2,441.0 L802.9,442.7 L803.5,441.1 L804.2,445.1 L804.9,446.0 L805.5,443.0 L806.2,444.7 L806.8,443.3 L807.5,441.7 L808.2,443.4 L808.8,441.7 L809.5,443.5 L810.1,444.9 L810.8,445.8 L811.5,446.9 L812.1,444.4 L812.8,445.5 L813.4,445.9 L814.1,446.3 L814.8,440.8 L815.4,444.4 L816.1,447.2 L816.7,444.2 L817.4,446.7 L818.1,447.8 L818.7,443.5 L819.4,446.5 L820.0,447.4 L820.7,447.2 L821.4,444.9 L822.0,448.2 L822.7,446.9 L823.3,449.5 L824.0,449.1 L824.7,447.8 L825.3,449.3 L826.0,448.3 L826.6,448.6 L827.3,447.6 L828.0,450.1 L828.6,452.2 L829.3,451.4 L829.9,451.5 L830.6,450.7 L831.3,451.1 L831.9,453.3 L832.6,449.7 L833.2,455.6 L833.9,452.0 L834.6,455.5 L835.2,453.7 L835.9,450.9 L836.5,452.5 L837.2,451.4 L837.9,451.5 L838.5,451.8 L839.2,449.3 L839.8,448.9 L840.5,449.0 L841.2,447.2 L841.8,448.9 L842.5,449.6 L843.1,449.6 L843.8,449.6 L844.5,448.8 L845.1,451.0 L845.8,446.6 L846.4,449.7 L847.1,450.2 L847.8,452.7 L848.4,452.7 L849.1,453.3 L849.7,452.4 L850.4,454.3 L851.1,451.4 L851.7,453.4 L852.4,450.0 L853.0,456.4 L853.7,456.2 L854.4,452.5 L855.0,452.0 L855.7,449.8 L856.3,450.6 L857.0,453.1 L857.7,452.5 L858.3,450.2 L859.0,451.6 L859.6,451.2 L860.3,453.0 L861.0,453.3 L861.6,451.7 L862.3,452.3 L862.9,452.2 L863.6,448.9 L864.3,452.9 L864.9,452.8 L865.6,454.5 L866.2,450.5 L866.9,455.2 L867.6,453.2 L868.2,455.1 L868.9,456.9 L869.5,452.7" stroke="#1a68de"/><path d="M78.2,487.4 L78.9,480.6 L79.5,484.7 L80.2,483.1 L80.8,483.1 L81.5,483.3 L82.2,480.5 L82.8,482.9 L83.5,481.8 L84.1,487.6 L84.8,483.0 L85.5,482.0 L86.1,481.9 L86.8,481.2 L87.4,480.4 L88.1,481.2 L88.8,482.3 L89.4,481.0 L90.1,482.5 L90.7,480.7 L91.4,480.8 L92.1,482.7 L92.7,481.1 L93.4,479.3 L94.0,479.5 L94.7,480.3 L95.4,482.1 L96.0,478.7 L96.7,478.5 L97.3,480.0 L98.0,477.1 L98.7,477.7 L99.3,479.1 L100.0,478.5 L100.6,477.6 L101.3,478.2 L102.0,473.0 L102.6,478.4 L103.3,475.4 L103.9,474.2 L104.6,476.8 L105.3,477.3 L105.9,475.6 L106.6,474.6 L107.2,476.1 L107.9,475.9 L108.6,477.9 L109.2,476.9 L109.9,476.1 L110.5,477.3 L111.2,475.4 L111.9,474.3 L112.5,476.4 L113.2,476.4 L113.8,475.2 L114.5,474.3 L115.2,475.7 L115.8,471.8 L116.5,476.3 L117.1,475.9 L117.8,472.8 L118.5,475.1 L119.1,473.6 L119.8,475.9 L120.4,471.7 L121.1,473.1 L121.8,475.2 L122.4,475.5 L123.1,470.5 L123.7,472.5 L124.4,473.3 L125.1,471.6 L125.7,474.4 L126.4,470.0 L127.0,471.9 L127.7,469.5 L128.4,472.7 L129.0,470.4 L129.7,469.6 L130.3,467.4 L131.0,472.1 L131.7,470.6 L132.3,470.5 L133.0,471.0 L133.6,469.9 L134.3,468.5 L135.0,468.3 L135.6,468.3 L136.3,471.4 L136.9,467.3 L137.6,468.5 L138.3,468.9 L138.9,469.7 L139.6,470.2 L140.2,467.6 L140.9,466.9 L141.6,469.4 L142.2,471.1 L142.9,470.5 L143.5,469.7 L144.2,468.9 L144.9,469.8 L145.5,469.1 L146.2,470.6 L146.8,468.3 L147.5,469.6 L148.2,469.2 L148.8,470.2 L149.5,469.7 L150.1,473.0 L150.8,471.5 L151.5,471.5 L152.1,466.4 L152.8,468.9 L153.4,468.5 L154.1,470.1 L154.8,466.1 L155.4,471.0 L156.1,470.8 L156.7,467.3 L157.4,467.6 L158.1,467.6 L158.7,468.5 L159.4,469.0 L160.0,470.6 L160.7,467.0 L161.4,468.0 L162.0,466.7 L162.7,468.7 L163.3,467.0 L164.0,467.7 L164.7,464.2 L165.3,465.4 L166.0,464.5 L166.6,467.9 L167.3,466.7 L168.0,465.3 L168.6,465.1 L169.3,466.5 L169.9,464.8 L170.6,464.5 L171.3,466.6 L171.9,469.4 L172.6,465.6 L173.2,465.2 L173.9,464.4 L174.6,464.2 L175.2,466.9 L175.9,467.4 L176.5,466.3 L177.2,466.9 L177.9,466.8 L178.5,467.1 L179.2,465.1 L179.8,467.0 L180.5,468.2 L181.2,467.2 L181.8,467.9 L182.5,467.5 L183.1,468.1 L183.8,469.5 L184.5,467.2 L185.1,466.9 L185.8,467.6 L186.4,466.7 L187.1,467.6 L187.8,461.8 L188.4,465.8 L189.1,463.9 L189.7,464.8 L190.4,465.8 L191.1,466.1 L191.7,466.1 L192.4,464.8 L193.0,466.9 L193.7,464.2 L194.4,464.4 L195.0,465.8 L195.7,464.0 L196.3,468.1 L197.0,466.9 L197.7,468.9 L198.3,466.2 L199.0,466.2 L199.6,467.6 L200.3,468.9 L201.0,467.5 L201.6,469.4 L202.3,469.3 L202.9,472.0 L203.6,469.1 L204.3,471.9 L204.9,469.8 L205.6,469.7 L206.2,470.4 L206.9,470.0 L207.6,472.2 L208.2,473.6 L208.9,472.5 L209.5,473.2 L210.2,474.5 L210.9,472.4 L211.5,472.1 L212.2,471.1 L212.8,468.9 L213.5,471.9 L214.2,467.9 L214.8,471.0 L215.5,469.7 L216.1,471.0 L216.8,468.8 L217.5,467.2 L218.1,468.3 L218.8,466.4 L219.4,466.3 L220.1,466.1 L220.8,465.3 L221.4,464.7 L222.1,463.4 L222.7,464.0 L223.4,461.0 L224.1,463.8 L224.7,462.5 L225.4,466.3 L226.0,467.2 L226.7,463.5 L227.4,467.4 L228.0,467.9 L228.7,467.3 L229.3,470.1 L230.0,468.8 L230.7,467.0 L231.3,469.1 L232.0,469.2 L232.6,469.5 L233.3,467.5 L234.0,470.0 L234.6,470.0 L235.3,467.2 L235.9,467.8 L236.6,468.3 L237.3,467.1 L237.9,469.7 L238.6,466.6 L239.2,463.8 L239.9,463.1 L240.6,463.2 L241.2,465.6 L241.9,461.2 L242.5,461.1 L243.2,461.2 L243.9,460.3 L244.5,463.7 L245.2,459.7 L245.8,461.6 L246.5,460.8 L247.2,461.5 L247.8,459.0 L248.5,463.3 L249.1,460.7 L249.8,461.0 L250.5,459.6 L251.1,460.0 L251.8,461.9 L252.4,462.6 L253.1,462.3 L253.8,462.9 L254.4,462.2 L255.1,461.2 L255.7,462.2 L256.4,461.6 L257.1,460.4 L257.7,461.3 L258.4,461.8 L259.0,459.9 L259.7,458.7 L260.4,459.8 L261.0,461.1 L261.7,457.7 L262.3,457.5 L263.0,457.1 L263.7,458.7 L264.3,454.0 L265.0,456.8 L265.6,457.8 L266.3,454.7 L267.0,457.9 L267.6,456.5 L268.3,454.9 L268.9,456.1 L269.6,453.8 L270.3,455.5 L270.9,459.2 L271.6,455.7 L272.2,460.0 L272.9,457.7 L273.6,459.7 L274.2,458.9 L274.9,456.1 L275.5,459.0 L276.2,460.6 L276.9,459.1 L277.5,459.3 L278.2,462.2 L278.8,461.2 L279.5,460.3 L280.2,462.3 L280.8,465.1 L281.5,463.8 L282.1,466.4 L282.8,467.9 L283.5,466.4 L284.1,465.4 L284.8,465.8 L285.4,468.3 L286.1,470.2 L286.8,469.9 L287.4,470.9 L288.1,470.1 L288.7,471.7 L289.4,471.2 L290.1,471.9 L290.7,470.9 L291.4,471.0 L292.0,472.9 L292.7,472.3 L293.4,472.8 L294.0,475.4 L294.7,474.5 L295.3,479.0 L296.0,476.3 L296.7,474.3 L297.3,476.4 L298.0,476.0 L298.6,474.6 L299.3,477.3 L300.0,474.8 L300.6,471.7 L301.3,477.3 L301.9,475.4 L302.6,478.6 L303.3,475.7 L303.9,475.0 L304.6,479.1 L305.2,475.5 L305.9,477.5 L306.6,479.5 L307.2,477.8 L307.9,477.8 L308.5,478.3 L309.2,479.6 L309.9,477.5 L310.5,479.8 L311.2,480.0 L311.8,482.8 L312.5,479.3 L313.2,478.8 L313.8,481.4 L314.5,480.1 L315.1,481.4 L315.8,481.4 L316.5,483.2 L317.1,480.9 L317.8,481.9 L318.4,478.7 L319.1,481.3 L319.8,485.0 L320.4,482.0 L321.1,482.2 L321.7,481.7 L322.4,484.5 L323.1,484.1 L323.7,482.3 L324.4,485.2 L325.0,484.8 L325.7,485.7 L326.4,483.9 L327.0,487.5 L327.7,485.8 L328.3,485.2 L329.0,484.8 L329.7,485.4 L330.3,487.2 L331.0,485.7 L331.6,487.8 L332.3,487.3 L333.0,488.6 L333.6,488.0 L334.3,487.0 L334.9,484.6 L335.6,488.0 L336.3,488.9 L336.9,488.3 L337.6,489.1 L338.2,487.9 L338.9,488.3 L339.6,487.7 L340.2,491.2 L340.9,489.7 L341.5,489.0 L342.2,488.0 L342.9,489.9 L343.5,492.3 L344.2,491.1 L344.8,489.5 L345.5,492.7 L346.2,492.8 L346.8,492.2 L347.5,491.9 L348.1,492.5 L348.8,491.6 L349.5,491.9 L350.1,489.7 L350.8,492.9 L351.4,491.1 L352.1,493.7 L352.8,487.9 L353.4,491.8 L354.1,492.2 L354.7,490.3 L355.4,491.4 L356.1,491.9 L356.7,491.6 L357.4,490.0 L358.0,490.6 L358.7,492.3 L359.4,492.8 L360.0,491.5 L360.7,492.1 L361.3,492.9 L362.0,494.9 L362.7,492.7 L363.3,493.1 L364.0,495.9 L364.6,494.8 L365.3,496.1 L366.0,497.4 L366.6,498.2 L367.3,496.0 L367.9,498.6 L368.6,494.8 L369.3,498.0 L369.9,494.8 L370.6,495.0 L371.2,497.6 L371.9,495.9 L372.6,495.2 L373.2,495.5 L373.9,496.7 L374.5,495.9 L375.2,496.0 L375.9,497.5 L376.5,495.0 L377.2,495.3 L377.8,495.3 L378.5,497.7 L379.2,497.5 L379.8,497.9 L380.5,496.1 L381.1,495.9 L381.8,497.4 L382.5,495.6 L383.1,497.4 L383.8,497.3 L384.4,495.3 L385.1,496.2 L385.8,496.2 L386.4,498.9 L387.1,500.1 L387.7,496.3 L388.4,496.5 L389.1,493.2 L389.7,496.8 L390.4,496.6 L391.0,495.1 L391.7,497.8 L392.4,494.5 L393.0,496.4 L393.7,497.0 L394.3,495.0 L395.0,498.1 L395.7,498.4 L396.3,494.9 L397.0,494.9 L397.6,497.8 L398.3,496.9 L399.0,495.3 L399.6,496.6 L400.3,496.8 L400.9,496.6 L401.6,497.6 L402.3,496.6 L402.9,498.0 L403.6,496.9 L404.2,495.3 L404.9,495.3 L405.6,495.0 L406.2,493.6 L406.9,490.3 L407.5,492.9 L408.2,491.5 L408.9,493.5 L409.5,491.1 L410.2,491.5 L410.8,491.0 L411.5,492.7 L412.2,490.4 L412.8,489.5 L413.5,490.2 L414.1,488.9 L414.8,489.6 L415.5,489.2 L416.1,489.5 L416.8,491.7 L417.4,488.2 L418.1,488.7 L418.8,488.2 L419.4,489.4 L420.1,486.6 L420.7,487.2 L421.4,488.0 L422.1,488.7 L422.7,487.8 L423.4,487.1 L424.0,486.5 L424.7,488.3 L425.4,489.6 L426.0,487.9 L426.7,487.7 L427.3,488.0 L428.0,485.9 L428.7,486.8 L429.3,486.8 L430.0,487.5 L430.6,487.0 L431.3,485.2 L432.0,488.4 L432.6,489.1 L433.3,486.2 L433.9,487.0 L434.6,486.7 L435.3,487.2 L435.9,483.8 L436.6,488.0 L437.2,484.8 L437.9,487.0 L438.6,485.1 L439.2,484.2 L439.9,484.4 L440.5,485.7 L441.2,483.0 L441.9,483.5 L442.5,483.3 L443.2,481.5 L443.8,485.8 L444.5,484.7 L445.2,483.9 L445.8,485.6 L446.5,482.5 L447.1,483.8 L447.8,486.4 L448.5,485.3 L449.1,480.7 L449.8,479.1 L450.4,482.4 L451.1,485.4 L451.8,483.2 L452.4,483.6 L453.1,484.8 L453.7,482.6 L454.4,484.2 L455.1,485.0 L455.7,484.6 L456.4,484.5 L457.0,483.0 L457.7,484.6 L458.4,483.3 L459.0,485.7 L459.7,487.5 L460.3,482.7 L461.0,480.6 L461.7,483.0 L462.3,484.1 L463.0,484.9 L463.6,484.9 L464.3,482.1 L465.0,482.0 L465.6,484.8 L466.3,481.4 L466.9,484.4 L467.6,482.4 L468.3,483.8 L468.9,483.6 L469.6,483.7 L470.2,483.7 L470.9,481.1 L471.6,482.9 L472.2,482.5 L472.9,482.9 L473.5,484.3 L474.2,482.1 L474.9,481.5 L475.5,481.5 L476.2,482.1 L476.8,483.6 L477.5,481.3 L478.2,484.2 L478.8,482.9 L479.5,482.2 L480.1,480.6 L480.8,482.9 L481.5,483.5 L482.1,480.0 L482.8,484.2 L483.4,484.9 L484.1,483.0 L484.8,483.2 L485.4,486.0 L486.1,484.3 L486.7,481.3 L487.4,482.7 L488.1,482.6 L488.7,482.8 L489.4,479.8 L490.0,484.4 L490.7,482.6 L491.4,484.0 L492.0,483.7 L492.7,485.4 L493.3,483.9 L494.0,483.4 L494.7,485.4 L495.3,486.9 L496.0,484.5 L496.6,487.1 L497.3,485.6 L498.0,484.5 L498.6,487.5 L499.3,484.1 L499.9,486.5 L500.6,484.1 L501.3,485.1 L501.9,482.2 L502.6,482.3 L503.2,484.6 L503.9,482.8 L504.6,482.2 L505.2,481.1 L505.9,482.1 L506.5,479.3 L507.2,479.6 L507.9,481.0 L508.5,480.1 L509.2,480.4 L509.8,481.4 L510.5,481.5 L511.2,481.6 L511.8,484.5 L512.5,483.7 L513.1,484.3 L513.8,482.7 L514.5,482.2 L515.1,481.0 L515.8,482.8 L516.4,480.5 L517.1,482.8 L517.8,484.8 L518.4,486.2 L519.1,485.3 L519.7,482.7 L520.4,484.5 L521.1,482.5 L521.7,484.6 L522.4,483.0 L523.0,484.0 L523.7,486.1 L524.4,483.3 L525.0,484.9 L525.7,481.4 L526.3,480.2 L527.0,482.2 L527.7,482.3 L528.3,478.7 L529.0,479.2 L529.6,476.8 L530.3,478.3 L531.0,479.7 L531.6,478.3 L532.3,477.6 L532.9,476.5 L533.6,479.1 L534.3,479.8 L534.9,479.7 L535.6,479.4 L536.2,477.4 L536.9,481.9 L537.6,479.4 L538.2,479.4 L538.9,480.8 L539.5,476.7 L540.2,479.7 L540.9,479.6 L541.5,480.2 L542.2,481.5 L542.8,480.1 L543.5,476.6 L544.2,478.6 L544.8,479.1 L545.5,478.8 L546.1,476.4 L546.8,475.6 L547.5,478.4 L548.1,477.8 L548.8,476.9 L549.4,474.1 L550.1,478.8 L550.8,471.7 L551.4,474.8 L552.1,477.7 L552.7,473.8 L553.4,473.6 L554.1,470.8 L554.7,473.7 L555.4,469.1 L556.0,470.4 L556.7,469.3 L557.4,466.7 L558.0,468.5 L558.7,464.1 L559.3,464.1 L560.0,463.9 L560.7,462.1 L561.3,462.2 L562.0,461.6 L562.6,458.6 L563.3,456.9 L564.0,455.6 L564.6,454.3 L565.3,454.4 L565.9,451.4 L566.6,450.6 L567.3,448.2 L567.9,445.4 L568.6,446.2 L569.2,441.8 L569.9,441.6 L570.6,442.1 L571.2,436.7 L571.9,436.5 L572.5,432.7 L573.2,432.6 L573.9,429.5 L574.5,429.5 L575.2,427.7 L575.8,427.1 L576.5,427.5 L577.2,424.0 L577.8,423.1 L578.5,420.8 L579.1,419.4 L579.8,417.6 L580.5,415.2 L581.1,417.3 L581.8,419.3 L582.4,417.9 L583.1,416.9 L583.8,420.6 L584.4,418.3 L585.1,418.7 L585.7,418.5 L586.4,419.5 L587.1,421.4 L587.7,425.6 L588.4,423.9 L589.0,425.5 L589.7,430.3 L590.4,435.7 L591.0,438.4 L591.7,445.4 L592.3,449.5 L593.0,451.9 L593.7,455.2 L594.3,455.3 L595.0,457.2 L595.6,463.7 L596.3,465.3 L597.0,463.0 L597.6,466.3 L598.3,466.8 L598.9,468.1 L599.6,468.2 L600.3,467.6 L600.9,469.0 L601.6,469.3 L602.2,469.4 L602.9,467.1 L603.6,465.8 L604.2,469.3 L604.9,468.4 L605.5,471.5 L606.2,472.5 L606.9,472.2 L607.5,471.7 L608.2,472.6 L608.8,474.5 L609.5,472.2 L610.2,474.8 L610.8,474.9 L611.5,474.5 L612.1,476.5 L612.8,473.8 L613.5,476.5 L614.1,474.1 L614.8,474.7 L615.4,474.6 L616.1,477.1 L616.8,475.5 L617.4,477.4 L618.1,476.1 L618.7,479.7 L619.4,481.3 L620.1,479.5 L620.7,482.0 L621.4,481.0 L622.0,483.7 L622.7,481.2 L623.4,479.2 L624.0,484.0 L624.7,482.0 L625.3,481.0 L626.0,481.7 L626.7,480.5 L627.3,482.7 L628.0,481.3 L628.6,484.8 L629.3,483.2 L630.0,479.3 L630.6,478.9 L631.3,479.5 L631.9,476.7 L632.6,478.5 L633.3,477.8 L633.9,476.0 L634.6,475.6 L635.2,476.5 L635.9,477.4 L636.6,477.2 L637.2,475.0 L637.9,476.0 L638.5,473.6 L639.2,475.2 L639.9,473.1 L640.5,475.4 L641.2,472.5 L641.8,472.8 L642.5,474.2 L643.2,474.9 L643.8,472.1 L644.5,473.3 L645.1,474.3 L645.8,474.6 L646.5,473.4 L647.1,475.0 L647.8,474.9 L648.4,477.7 L649.1,476.9 L649.8,474.6 L650.4,473.7 L651.1,477.3 L651.7,479.1 L652.4,477.9 L653.1,479.0 L653.7,477.0 L654.4,475.6 L655.0,478.5 L655.7,477.4 L656.4,478.0 L657.0,474.8 L657.7,476.8 L658.3,475.4 L659.0,477.2 L659.7,475.0 L660.3,474.8 L661.0,474.7 L661.6,477.3 L662.3,475.5 L663.0,474.4 L663.6,474.1 L664.3,474.1 L664.9,477.7 L665.6,473.1 L666.3,474.5 L666.9,476.7 L667.6,477.6 L668.2,475.8 L668.9,477.2 L669.6,477.3 L670.2,477.7 L670.9,476.5 L671.5,478.9 L672.2,477.0 L672.9,479.1 L673.5,475.5 L674.2,478.6 L674.8,475.9 L675.5,476.1 L676.2,479.5 L676.8,478.3 L677.5,480.8 L678.1,479.2 L678.8,483.6 L679.5,481.7 L680.1,480.4 L680.8,482.3 L681.4,483.3 L682.1,480.9 L682.8,482.6 L683.4,484.6 L684.1,482.8 L684.7,481.3 L685.4,480.3 L686.1,481.8 L686.7,478.6 L687.4,476.2 L688.0,479.4 L688.7,478.7 L689.4,482.6 L690.0,480.2 L690.7,478.6 L691.3,478.3 L692.0,480.8 L692.7,479.0 L693.3,479.6 L694.0,480.5 L694.6,481.0 L695.3,481.3 L696.0,481.6 L696.6,483.6 L697.3,484.5 L697.9,480.0 L698.6,486.3 L699.3,483.1 L699.9,484.9 L700.6,482.3 L701.2,483.9 L701.9,483.9 L702.6,483.8 L703.2,484.7 L703.9,484.1 L704.5,481.3 L705.2,482.0 L705.9,482.7 L706.5,482.0 L707.2,480.0 L707.8,479.5 L708.5,479.3 L709.2,477.7 L709.8,477.4 L710.5,481.6 L711.1,479.1 L711.8,480.2 L712.5,479.5 L713.1,483.1 L713.8,484.3 L714.4,482.0 L715.1,483.6 L715.8,482.2 L716.4,486.1 L717.1,484.9 L717.7,482.4 L718.4,485.2 L719.1,483.8 L719.7,483.7 L720.4,483.3 L721.0,481.6 L721.7,481.4 L722.4,482.7 L723.0,481.3 L723.7,479.5 L724.3,483.3 L725.0,479.6 L725.7,478.6 L726.3,477.9 L727.0,479.4 L727.6,479.3 L728.3,477.7 L729.0,478.0 L729.6,474.0 L730.3,474.8 L730.9,473.7 L731.6,473.5 L732.3,473.3 L732.9,468.9 L733.6,475.6 L734.2,469.3 L734.9,470.6 L735.6,470.8 L736.2,470.4 L736.9,469.1 L737.5,464.2 L738.2,466.4 L738.9,468.6 L739.5,465.8 L740.2,465.3 L740.8,463.1 L741.5,467.9 L742.2,466.6 L742.8,464.3 L743.5,465.2 L744.1,465.0 L744.8,463.4 L745.5,464.4 L746.1,465.1 L746.8,465.5 L747.4,466.5 L748.1,464.7 L748.8,464.1 L749.4,465.6 L750.1,464.3 L750.7,463.7 L751.4,467.4 L752.1,465.6 L752.7,466.7 L753.4,467.8 L754.0,465.7 L754.7,468.6 L755.4,468.7 L756.0,468.2 L756.7,469.3 L757.3,467.9 L758.0,466.0 L758.7,469.0 L759.3,468.3 L760.0,471.0 L760.6,470.4 L761.3,469.4 L762.0,470.4 L762.6,472.4 L763.3,472.3 L763.9,471.4 L764.6,471.6 L765.3,470.8 L765.9,471.2 L766.6,472.4 L767.2,471.7 L767.9,472.5 L768.6,470.8 L769.2,470.3 L769.9,470.7 L770.5,473.0 L771.2,476.2 L771.9,476.7 L772.5,474.3 L773.2,474.4 L773.8,478.6 L774.5,478.9 L775.2,477.2 L775.8,481.4 L776.5,480.9 L777.1,483.2 L777.8,482.4 L778.5,483.7 L779.1,483.2 L779.8,481.6 L780.4,482.8 L781.1,482.4 L781.8,484.7 L782.4,482.2 L783.1,481.6 L783.7,484.9 L784.4,485.7 L785.1,486.2 L785.7,485.8 L786.4,482.2 L787.0,483.5 L787.7,483.8 L788.4,484.7 L789.0,481.8 L789.7,485.0 L790.3,485.5 L791.0,483.9 L791.7,485.6 L792.3,487.4 L793.0,485.9 L793.6,487.5 L794.3,487.7 L795.0,487.0 L795.6,487.2 L796.3,486.3 L796.9,488.8 L797.6,486.5 L798.3,486.4 L798.9,488.6 L799.6,486.7 L800.2,488.5 L800.9,489.5 L801.6,488.3 L802.2,488.5 L802.9,489.8 L803.5,489.6 L804.2,486.5 L804.9,486.9 L805.5,490.7 L806.2,489.5 L806.8,486.0 L807.5,487.1 L808.2,489.1 L808.8,487.8 L809.5,489.9 L810.1,489.4 L810.8,490.0 L811.5,487.7 L812.1,490.3 L812.8,492.3 L813.4,488.4 L814.1,491.5 L814.8,491.1 L815.4,490.7 L816.1,489.8 L816.7,488.3 L817.4,488.8 L818.1,491.3 L818.7,491.8 L819.4,492.4 L820.0,492.2 L820.7,492.4 L821.4,490.7 L822.0,489.9 L822.7,492.2 L823.3,492.9 L824.0,492.6 L824.7,490.6 L825.3,492.3 L826.0,491.2 L826.6,493.7 L827.3,492.2 L828.0,493.7 L828.6,494.6 L829.3,494.4 L829.9,496.3 L830.6,492.8 L831.3,491.3 L831.9,495.9 L832.6,496.6 L833.2,496.7 L833.9,495.1 L834.6,495.5 L835.2,494.9 L835.9,492.9 L836.5,494.0 L837.2,495.5 L837.9,494.0 L838.5,497.6 L839.2,492.7 L839.8,494.4 L840.5,496.6 L841.2,494.2 L841.8,493.5 L842.5,493.3 L843.1,494.3 L843.8,497.6 L844.5,496.2 L845.1,496.5 L845.8,495.2 L846.4,497.3 L847.1,496.4 L847.8,495.1 L848.4,495.9 L849.1,497.0 L849.7,498.5 L850.4,496.9 L851.1,497.8 L851.7,500.1 L852.4,496.1 L853.0,495.5 L853.7,498.6 L854.4,497.8 L855.0,496.8 L855.7,497.1 L856.3,496.0 L857.0,497.0 L857.7,495.4 L858.3,496.7 L859.0,493.6 L859.6,493.9 L860.3,494.9 L861.0,493.9 L861.6,495.4 L862.3,494.2 L862.9,493.4 L863.6,494.4 L864.3,493.3 L864.9,491.8 L865.6,492.3 L866.2,492.7 L866.9,493.2 L867.6,493.9 L868.2,495.0 L868.9,494.5 L869.5,496.1" stroke="#22a35c"/><path d="M78.2,532.4 L78.9,532.9 L79.5,534.6 L80.2,533.7 L80.8,531.6 L81.5,533.2 L82.2,532.7 L82.8,533.4 L83.5,531.8 L84.1,533.6 L84.8,533.7 L85.5,534.9 L86.1,533.8 L86.8,534.0 L87.4,532.2 L88.1,535.7 L88.8,531.8 L89.4,534.7 L90.1,533.4 L90.7,532.9 L91.4,533.1 L92.1,533.1 L92.7,534.0 L93.4,533.6 L94.0,535.0 L94.7,531.9 L95.4,533.6 L96.0,532.7 L96.7,534.2 L97.3,531.5 L98.0,533.1 L98.7,533.5 L99.3,531.9 L100.0,534.2 L100.6,533.4 L101.3,534.1 L102.0,534.0 L102.6,532.2 L103.3,532.3 L103.9,532.8 L104.6,533.7 L105.3,533.8 L105.9,532.3 L106.6,532.4 L107.2,532.3 L107.9,532.5 L108.6,532.8 L109.2,532.9 L109.9,534.9 L110.5,532.5 L111.2,532.7 L111.9,533.4 L112.5,532.1 L113.2,532.7 L113.8,533.0 L114.5,533.7 L115.2,531.8 L115.8,534.3 L116.5,532.7 L117.1,533.2 L117.8,533.8 L118.5,533.6 L119.1,534.0 L119.8,533.2 L120.4,532.9 L121.1,533.2 L121.8,531.8 L122.4,533.8 L123.1,531.8 L123.7,531.2 L124.4,534.1 L125.1,531.8 L125.7,530.7 L126.4,533.3 L127.0,531.1 L127.7,532.2 L128.4,530.2 L129.0,530.6 L129.7,529.1 L130.3,528.8 L131.0,529.5 L131.7,530.3 L132.3,531.1 L133.0,532.6 L133.6,529.4 L134.3,531.6 L135.0,530.4 L135.6,531.3 L136.3,530.5 L136.9,531.0 L137.6,532.1 L138.3,532.1 L138.9,533.5 L139.6,533.0 L140.2,534.9 L140.9,533.8 L141.6,533.8 L142.2,534.7 L142.9,534.1 L143.5,533.5 L144.2,533.5 L144.9,533.4 L145.5,534.5 L146.2,534.1 L146.8,533.7 L147.5,534.0 L148.2,532.7 L148.8,533.7 L149.5,531.8 L150.1,534.4 L150.8,533.2 L151.5,533.2 L152.1,533.6 L152.8,533.0 L153.4,532.8 L154.1,534.1 L154.8,533.1 L155.4,532.2 L156.1,533.5 L156.7,531.6 L157.4,534.8 L158.1,533.2 L158.7,533.5 L159.4,535.6 L160.0,535.6 L160.7,533.8 L161.4,534.4 L162.0,534.9 L162.7,535.6 L163.3,534.0 L164.0,534.3 L164.7,535.4 L165.3,534.6 L166.0,535.1 L166.6,535.0 L167.3,533.3 L168.0,533.6 L168.6,531.9 L169.3,534.1 L169.9,535.5 L170.6,533.1 L171.3,535.2 L171.9,534.8 L172.6,533.7 L173.2,533.6 L173.9,533.5 L174.6,532.5 L175.2,532.9 L175.9,533.0 L176.5,533.4 L177.2,533.5 L177.9,531.9 L178.5,533.3 L179.2,531.7 L179.8,532.2 L180.5,532.7 L181.2,532.3 L181.8,532.2 L182.5,532.6 L183.1,531.9 L183.8,532.0 L184.5,532.5 L185.1,533.8 L185.8,532.9 L186.4,535.0 L187.1,533.6 L187.8,530.8 L188.4,533.4 L189.1,535.6 L189.7,534.2 L190.4,534.0 L191.1,533.7 L191.7,536.0 L192.4,535.8 L193.0,535.6 L193.7,535.4 L194.4,536.4 L195.0,535.9 L195.7,533.9 L196.3,535.8 L197.0,535.2 L197.7,535.0 L198.3,535.7 L199.0,535.0 L199.6,532.2 L200.3,536.4 L201.0,535.9 L201.6,534.8 L202.3,534.5 L202.9,535.0 L203.6,533.6 L204.3,535.0 L204.9,534.4 L205.6,534.3 L206.2,533.7 L206.9,533.9 L207.6,535.5 L208.2,535.7 L208.9,534.9 L209.5,534.3 L210.2,533.5 L210.9,534.9 L211.5,535.7 L212.2,532.6 L212.8,535.1 L213.5,532.0 L214.2,533.6 L214.8,534.2 L215.5,532.5 L216.1,532.3 L216.8,533.8 L217.5,534.4 L218.1,533.0 L218.8,534.6 L219.4,532.6 L220.1,534.9 L220.8,533.3 L221.4,533.3 L222.1,533.6 L222.7,533.3 L223.4,534.6 L224.1,534.9 L224.7,533.3 L225.4,532.6 L226.0,531.6 L226.7,531.9 L227.4,532.6 L228.0,532.4 L228.7,532.4 L229.3,532.4 L230.0,532.8 L230.7,531.0 L231.3,531.3 L232.0,533.2 L232.6,532.9 L233.3,531.5 L234.0,533.1 L234.6,531.2 L235.3,531.5 L235.9,529.9 L236.6,532.3 L237.3,531.4 L237.9,532.2 L238.6,531.7 L239.2,531.0 L239.9,530.8 L240.6,531.6 L241.2,530.1 L241.9,529.9 L242.5,529.9 L243.2,530.3 L243.9,530.2 L244.5,530.9 L245.2,528.8 L245.8,529.8 L246.5,527.7 L247.2,528.6 L247.8,527.9 L248.5,529.1 L249.1,527.7 L249.8,526.4 L250.5,527.1 L251.1,526.6 L251.8,525.7 L252.4,525.4 L253.1,524.5 L253.8,527.7 L254.4,525.0 L255.1,525.6 L255.7,523.4 L256.4,523.2 L257.1,523.9 L257.7,523.8 L258.4,524.5 L259.0,522.6 L259.7,523.8 L260.4,524.6 L261.0,522.1 L261.7,523.6 L262.3,521.7 L263.0,522.8 L263.7,522.6 L264.3,523.8 L265.0,521.4 L265.6,522.0 L266.3,522.7 L267.0,520.5 L267.6,521.5 L268.3,520.7 L268.9,520.8 L269.6,522.0 L270.3,522.0 L270.9,523.8 L271.6,522.9 L272.2,523.2 L272.9,522.4 L273.6,522.9 L274.2,524.0 L274.9,522.4 L275.5,526.8 L276.2,525.3 L276.9,525.4 L277.5,526.4 L278.2,528.0 L278.8,528.7 L279.5,527.5 L280.2,528.6 L280.8,528.4 L281.5,527.8 L282.1,529.2 L282.8,529.4 L283.5,528.2 L284.1,530.9 L284.8,528.6 L285.4,530.6 L286.1,529.6 L286.8,530.0 L287.4,530.3 L288.1,531.8 L288.7,530.1 L289.4,531.2 L290.1,532.9 L290.7,530.9 L291.4,531.6 L292.0,532.3 L292.7,531.2 L293.4,532.2 L294.0,531.2 L294.7,532.6 L295.3,532.0 L296.0,531.1 L296.7,533.4 L297.3,532.0 L298.0,531.8 L298.6,531.3 L299.3,531.7 L300.0,532.1 L300.6,532.4 L301.3,533.3 L301.9,531.0 L302.6,532.0 L303.3,533.4 L303.9,532.5 L304.6,532.7 L305.2,533.8 L305.9,532.6 L306.6,532.7 L307.2,532.3 L307.9,534.0 L308.5,533.3 L309.2,531.6 L309.9,532.8 L310.5,531.2 L311.2,533.3 L311.8,532.9 L312.5,532.2 L313.2,531.9 L313.8,530.6 L314.5,533.0 L315.1,532.2 L315.8,532.0 L316.5,533.0 L317.1,531.7 L317.8,531.8 L318.4,531.7 L319.1,531.0 L319.8,534.6 L320.4,532.1 L321.1,532.0 L321.7,533.1 L322.4,529.3 L323.1,532.3 L323.7,532.3 L324.4,531.4 L325.0,532.7 L325.7,530.4 L326.4,532.2 L327.0,533.1 L327.7,530.1 L328.3,530.8 L329.0,532.0 L329.7,532.1 L330.3,531.5 L331.0,532.5 L331.6,532.3 L332.3,530.8 L333.0,532.0 L333.6,530.9 L334.3,530.1 L334.9,529.8 L335.6,533.0 L336.3,532.0 L336.9,534.0 L337.6,530.8 L338.2,531.9 L338.9,532.7 L339.6,532.3 L340.2,533.0 L340.9,532.8 L341.5,532.1 L342.2,530.6 L342.9,532.0 L343.5,534.6 L344.2,533.8 L344.8,534.5 L345.5,532.7 L346.2,533.1 L346.8,532.6 L347.5,533.8 L348.1,533.5 L348.8,533.9 L349.5,535.1 L350.1,532.7 L350.8,534.1 L351.4,532.1 L352.1,534.4 L352.8,533.0 L353.4,533.3 L354.1,533.4 L354.7,534.8 L355.4,533.2 L356.1,532.7 L356.7,532.0 L357.4,533.3 L358.0,532.2 L358.7,532.5 L359.4,532.9 L360.0,533.5 L360.7,532.2 L361.3,533.5 L362.0,534.5 L362.7,531.4 L363.3,534.1 L364.0,534.8 L364.6,532.2 L365.3,533.4 L366.0,531.6 L366.6,533.2 L367.3,532.6 L367.9,533.2 L368.6,532.1 L369.3,532.3 L369.9,532.7 L370.6,532.5 L371.2,532.7 L371.9,533.1 L372.6,532.3 L373.2,533.3 L373.9,533.9 L374.5,531.4 L375.2,533.8 L375.9,533.0 L376.5,532.7 L377.2,532.6 L377.8,533.1 L378.5,533.2 L379.2,534.3 L379.8,532.8 L380.5,535.0 L381.1,533.3 L381.8,534.7 L382.5,535.1 L383.1,533.0 L383.8,535.2 L384.4,536.2 L385.1,533.7 L385.8,534.7 L386.4,534.0 L387.1,534.2 L387.7,533.9 L388.4,533.5 L389.1,534.6 L389.7,534.7 L390.4,533.8 L391.0,535.2 L391.7,534.7 L392.4,534.2 L393.0,532.8 L393.7,535.2 L394.3,534.6 L395.0,531.3 L395.7,532.2 L396.3,532.7 L397.0,534.0 L397.6,534.2 L398.3,532.7 L399.0,533.2 L399.6,533.5 L400.3,531.7 L400.9,533.4 L401.6,532.5 L402.3,533.0 L402.9,532.7 L403.6,531.6 L404.2,531.8 L404.9,532.7 L405.6,532.8 L406.2,532.4 L406.9,533.6 L407.5,532.3 L408.2,531.4 L408.9,532.2 L409.5,532.4 L410.2,532.4 L410.8,533.6 L411.5,533.0 L412.2,533.5 L412.8,533.0 L413.5,532.3 L414.1,533.4 L414.8,532.2 L415.5,532.6 L416.1,531.4 L416.8,532.4 L417.4,532.0 L418.1,532.7 L418.8,534.0 L419.4,534.5 L420.1,533.2 L420.7,532.2 L421.4,533.0 L422.1,532.4 L422.7,531.6 L423.4,532.1 L424.0,531.9 L424.7,531.5 L425.4,533.3 L426.0,531.5 L426.7,531.5 L427.3,532.6 L428.0,531.3 L428.7,530.8 L429.3,531.1 L430.0,532.3 L430.6,532.1 L431.3,532.0 L432.0,531.3 L432.6,530.8 L433.3,532.5 L433.9,530.3 L434.6,531.4 L435.3,530.4 L435.9,531.2 L436.6,531.4 L437.2,532.7 L437.9,528.8 L438.6,532.8 L439.2,530.6 L439.9,531.7 L440.5,532.2 L441.2,530.7 L441.9,531.3 L442.5,531.9 L443.2,531.3 L443.8,530.7 L444.5,531.6 L445.2,531.5 L445.8,530.1 L446.5,532.7 L447.1,531.7 L447.8,529.3 L448.5,530.8 L449.1,533.2 L449.8,533.1 L450.4,531.9 L451.1,530.1 L451.8,531.5 L452.4,532.7 L453.1,532.1 L453.7,531.5 L454.4,531.2 L455.1,532.7 L455.7,531.7 L456.4,532.3 L457.0,532.5 L457.7,533.6 L458.4,532.2 L459.0,532.3 L459.7,530.5 L460.3,533.2 L461.0,533.0 L461.7,532.2 L462.3,530.1 L463.0,531.7 L463.6,532.3 L464.3,534.2 L465.0,532.8 L465.6,533.0 L466.3,533.0 L466.9,533.4 L467.6,531.1 L468.3,531.3 L468.9,531.0 L469.6,531.8 L470.2,531.7 L470.9,532.0 L471.6,530.9 L472.2,531.9 L472.9,531.0 L473.5,533.7 L474.2,531.2 L474.9,534.0 L475.5,533.1 L476.2,530.4 L476.8,532.4 L477.5,532.0 L478.2,530.0 L478.8,532.0 L479.5,531.3 L480.1,531.8 L480.8,530.7 L481.5,531.5 L482.1,532.0 L482.8,531.5 L483.4,531.2 L484.1,531.7 L484.8,531.1 L485.4,532.5 L486.1,529.9 L486.7,533.8 L487.4,532.6 L488.1,533.1 L488.7,533.6 L489.4,531.8 L490.0,535.2 L490.7,532.2 L491.4,533.8 L492.0,533.7 L492.7,534.7 L493.3,533.6 L494.0,532.3 L494.7,534.0 L495.3,531.4 L496.0,533.6 L496.6,533.4 L497.3,535.3 L498.0,533.6 L498.6,533.5 L499.3,533.3 L499.9,533.2 L500.6,533.5 L501.3,534.7 L501.9,532.9 L502.6,534.0 L503.2,532.8 L503.9,534.1 L504.6,534.4 L505.2,533.1 L505.9,533.7 L506.5,534.4 L507.2,535.0 L507.9,535.2 L508.5,534.2 L509.2,533.4 L509.8,532.7 L510.5,535.0 L511.2,535.5 L511.8,534.5 L512.5,535.5 L513.1,533.6 L513.8,533.6 L514.5,535.3 L515.1,532.8 L515.8,534.3 L516.4,534.0 L517.1,533.7 L517.8,535.1 L518.4,532.5 L519.1,532.9 L519.7,531.2 L520.4,532.1 L521.1,532.6 L521.7,532.6 L522.4,532.7 L523.0,533.2 L523.7,532.2 L524.4,531.0 L525.0,532.9 L525.7,533.1 L526.3,531.6 L527.0,532.0 L527.7,534.3 L528.3,533.6 L529.0,533.7 L529.6,533.2 L530.3,532.7 L531.0,532.1 L531.6,533.1 L532.3,532.3 L532.9,532.1 L533.6,532.4 L534.3,532.3 L534.9,533.2 L535.6,531.4 L536.2,534.6 L536.9,531.3 L537.6,531.8 L538.2,533.0 L538.9,531.2 L539.5,531.5 L540.2,531.8 L540.9,528.8 L541.5,531.0 L542.2,530.4 L542.8,530.8 L543.5,531.3 L544.2,531.2 L544.8,531.8 L545.5,531.5 L546.1,530.8 L546.8,529.5 L547.5,530.3 L548.1,528.1 L548.8,528.6 L549.4,529.7 L550.1,528.7 L550.8,526.2 L551.4,526.5 L552.1,527.3 L552.7,526.5 L553.4,526.3 L554.1,523.0 L554.7,522.9 L555.4,523.2 L556.0,521.9 L556.7,522.3 L557.4,521.8 L558.0,521.6 L558.7,520.7 L559.3,520.9 L560.0,520.5 L560.7,519.4 L561.3,517.5 L562.0,519.2 L562.6,517.3 L563.3,516.4 L564.0,514.9 L564.6,511.9 L565.3,512.5 L565.9,509.8 L566.6,507.8 L567.3,508.6 L567.9,505.7 L568.6,504.9 L569.2,504.2 L569.9,503.7 L570.6,499.2 L571.2,499.0 L571.9,499.2 L572.5,496.7 L573.2,493.2 L573.9,495.3 L574.5,494.3 L575.2,493.8 L575.8,492.3 L576.5,490.7 L577.2,490.2 L577.8,489.0 L578.5,487.6 L579.1,487.7 L579.8,487.5 L580.5,486.2 L581.1,488.4 L581.8,488.8 L582.4,489.4 L583.1,486.9 L583.8,490.5 L584.4,491.3 L585.1,491.6 L585.7,494.1 L586.4,493.3 L587.1,497.3 L587.7,498.2 L588.4,499.2 L589.0,503.0 L589.7,504.1 L590.4,505.9 L591.0,506.3 L591.7,509.8 L592.3,512.6 L593.0,514.4 L593.7,514.1 L594.3,518.6 L595.0,520.5 L595.6,521.2 L596.3,521.2 L597.0,521.1 L597.6,522.5 L598.3,523.6 L598.9,525.2 L599.6,526.1 L600.3,525.5 L600.9,525.3 L601.6,526.9 L602.2,526.5 L602.9,529.3 L603.6,527.2 L604.2,529.1 L604.9,529.7 L605.5,528.3 L606.2,530.4 L606.9,529.5 L607.5,529.1 L608.2,529.1 L608.8,530.3 L609.5,531.4 L610.2,528.7 L610.8,531.3 L611.5,530.7 L612.1,530.2 L612.8,531.0 L613.5,531.2 L614.1,531.3 L614.8,532.3 L615.4,530.8 L616.1,533.6 L616.8,532.7 L617.4,531.5 L618.1,530.3 L618.7,532.3 L619.4,532.1 L620.1,533.3 L620.7,533.4 L621.4,534.6 L622.0,532.8 L622.7,533.8 L623.4,532.7 L624.0,532.8 L624.7,534.7 L625.3,533.2 L626.0,533.3 L626.7,533.0 L627.3,533.7 L628.0,534.0 L628.6,533.3 L629.3,532.3 L630.0,533.7 L630.6,532.6 L631.3,533.1 L631.9,533.6 L632.6,533.6 L633.3,531.2 L633.9,535.0 L634.6,534.2 L635.2,535.2 L635.9,535.8 L636.6,532.5 L637.2,532.9 L637.9,533.6 L638.5,534.3 L639.2,532.9 L639.9,533.0 L640.5,534.3 L641.2,532.3 L641.8,533.1 L642.5,533.8 L643.2,532.3 L643.8,533.0 L644.5,531.9 L645.1,530.3 L645.8,531.1 L646.5,531.2 L647.1,530.9 L647.8,531.1 L648.4,531.4 L649.1,531.2 L649.8,531.1 L650.4,530.7 L651.1,531.0 L651.7,531.1 L652.4,531.1 L653.1,533.3 L653.7,530.4 L654.4,532.6 L655.0,531.0 L655.7,532.1 L656.4,533.4 L657.0,532.2 L657.7,533.5 L658.3,530.8 L659.0,530.9 L659.7,530.1 L660.3,530.3 L661.0,529.7 L661.6,529.4 L662.3,529.8 L663.0,530.8 L663.6,530.0 L664.3,529.9 L664.9,529.7 L665.6,529.4 L666.3,528.8 L666.9,529.4 L667.6,530.5 L668.2,528.8 L668.9,531.4 L669.6,530.6 L670.2,530.3 L670.9,530.8 L671.5,532.1 L672.2,532.0 L672.9,532.1 L673.5,533.7 L674.2,534.4 L674.8,531.1 L675.5,533.3 L676.2,531.9 L676.8,531.4 L677.5,532.3 L678.1,533.9 L678.8,532.8 L679.5,532.7 L680.1,534.6 L680.8,533.9 L681.4,533.5 L682.1,535.3 L682.8,534.2 L683.4,533.2 L684.1,533.0 L684.7,533.7 L685.4,534.3 L686.1,535.2 L686.7,535.2 L687.4,534.6 L688.0,533.4 L688.7,535.5 L689.4,534.8 L690.0,533.7 L690.7,533.6 L691.3,535.1 L692.0,535.2 L692.7,535.7 L693.3,533.8 L694.0,536.8 L694.6,533.3 L695.3,534.9 L696.0,536.2 L696.6,535.9 L697.3,534.0 L697.9,535.5 L698.6,536.0 L699.3,535.5 L699.9,533.8 L700.6,536.3 L701.2,533.1 L701.9,534.6 L702.6,533.5 L703.2,534.0 L703.9,534.0 L704.5,534.7 L705.2,532.9 L705.9,534.2 L706.5,535.1 L707.2,533.9 L707.8,534.2 L708.5,534.0 L709.2,532.8 L709.8,533.1 L710.5,533.4 L711.1,533.7 L711.8,535.0 L712.5,534.5 L713.1,532.4 L713.8,532.3 L714.4,531.6 L715.1,530.2 L715.8,533.5 L716.4,532.6 L717.1,530.1 L717.7,531.7 L718.4,533.8 L719.1,531.8 L719.7,531.7 L720.4,531.2 L721.0,530.1 L721.7,529.5 L722.4,529.6 L723.0,530.3 L723.7,529.8 L724.3,530.5 L725.0,531.3 L725.7,529.9 L726.3,529.9 L727.0,528.6 L727.6,527.4 L728.3,530.4 L729.0,528.8 L729.6,528.9 L730.3,527.2 L730.9,525.6 L731.6,528.2 L732.3,524.6 L732.9,526.2 L733.6,525.6 L734.2,526.0 L734.9,526.3 L735.6,526.0 L736.2,523.0 L736.9,525.7 L737.5,522.7 L738.2,524.9 L738.9,523.6 L739.5,522.7 L740.2,523.0 L740.8,522.0 L741.5,523.0 L742.2,523.7 L742.8,523.3 L743.5,522.3 L744.1,523.1 L744.8,522.3 L745.5,523.6 L746.1,521.9 L746.8,520.6 L747.4,520.7 L748.1,520.1 L748.8,520.4 L749.4,520.4 L750.1,521.1 L750.7,521.1 L751.4,520.4 L752.1,520.8 L752.7,519.7 L753.4,519.9 L754.0,518.2 L754.7,519.9 L755.4,520.3 L756.0,523.3 L756.7,519.8 L757.3,521.3 L758.0,521.1 L758.7,520.1 L759.3,522.1 L760.0,522.1 L760.6,520.9 L761.3,520.3 L762.0,522.7 L762.6,521.7 L763.3,523.9 L763.9,523.3 L764.6,524.4 L765.3,524.0 L765.9,526.2 L766.6,525.8 L767.2,527.1 L767.9,526.2 L768.6,525.5 L769.2,525.6 L769.9,526.8 L770.5,527.9 L771.2,527.4 L771.9,530.6 L772.5,528.5 L773.2,529.2 L773.8,529.1 L774.5,528.1 L775.2,530.5 L775.8,530.4 L776.5,530.8 L777.1,529.3 L777.8,530.4 L778.5,530.6 L779.1,532.0 L779.8,529.7 L780.4,531.9 L781.1,532.7 L781.8,531.3 L782.4,531.1 L783.1,533.4 L783.7,532.6 L784.4,533.6 L785.1,533.5 L785.7,534.0 L786.4,533.0 L787.0,531.3 L787.7,534.0 L788.4,532.8 L789.0,534.1 L789.7,533.0 L790.3,535.1 L791.0,533.3 L791.7,534.3 L792.3,534.5 L793.0,533.4 L793.6,533.7 L794.3,533.3 L795.0,532.4 L795.6,534.7 L796.3,532.4 L796.9,531.7 L797.6,532.6 L798.3,533.2 L798.9,533.1 L799.6,532.7 L800.2,532.5 L800.9,530.9 L801.6,533.5 L802.2,534.5 L802.9,532.1 L803.5,531.1 L804.2,533.5 L804.9,532.7 L805.5,529.0 L806.2,532.1 L806.8,531.4 L807.5,531.7 L808.2,534.7 L808.8,533.8 L809.5,532.7 L810.1,532.9 L810.8,534.4 L811.5,531.8 L812.1,533.6 L812.8,532.2 L813.4,533.7 L814.1,533.1 L814.8,532.1 L815.4,533.9 L816.1,533.4 L816.7,534.6 L817.4,532.5 L818.1,533.0 L818.7,532.2 L819.4,534.0 L820.0,532.1 L820.7,532.8 L821.4,534.1 L822.0,533.3 L822.7,533.0 L823.3,533.0 L824.0,533.0 L824.7,533.3 L825.3,532.3 L826.0,530.6 L826.6,533.8 L827.3,531.5 L828.0,534.2 L828.6,532.7 L829.3,535.4 L829.9,533.4 L830.6,532.6 L831.3,533.1 L831.9,530.8 L832.6,532.2 L833.2,531.7 L833.9,532.0 L834.6,529.9 L835.2,529.7 L835.9,532.4 L836.5,531.7 L837.2,531.1 L837.9,531.3 L838.5,530.7 L839.2,530.7 L839.8,531.8 L840.5,530.7 L841.2,531.5 L841.8,530.1 L842.5,528.9 L843.1,529.9 L843.8,530.3 L844.5,529.2 L845.1,529.8 L845.8,529.6 L846.4,530.9 L847.1,530.7 L847.8,530.9 L848.4,529.0 L849.1,530.0 L849.7,530.9 L850.4,529.7 L851.1,529.4 L851.7,528.7 L852.4,530.2 L853.0,529.5 L853.7,530.2 L854.4,529.1 L855.0,531.1 L855.7,529.1 L856.3,527.8 L857.0,529.2 L857.7,529.4 L858.3,530.1 L859.0,528.3 L859.6,528.2 L860.3,528.3 L861.0,528.1 L861.6,526.4 L862.3,529.0 L862.9,529.4 L863.6,527.4 L864.3,527.0 L864.9,527.7 L865.6,526.9 L866.2,528.3 L866.9,526.8 L867.6,527.9 L868.2,525.9 L868.9,525.6 L869.5,525.4" stroke="#b06ade"/><path d="M78.2,573.9 L78.9,573.3 L79.5,575.0 L80.2,576.1 L80.8,577.2 L81.5,575.9 L82.2,575.1 L82.8,575.0 L83.5,577.3 L84.1,578.7 L84.8,576.9 L85.5,574.9 L86.1,575.4 L86.8,579.1 L87.4,577.2 L88.1,574.5 L88.8,576.9 L89.4,575.3 L90.1,576.0 L90.7,576.1 L91.4,575.6 L92.1,577.2 L92.7,576.1 L93.4,575.1 L94.0,576.3 L94.7,576.6 L95.4,572.8 L96.0,574.6 L96.7,573.3 L97.3,574.3 L98.0,572.5 L98.7,574.3 L99.3,574.2 L100.0,573.7 L100.6,572.6 L101.3,573.4 L102.0,572.4 L102.6,571.9 L103.3,574.1 L103.9,572.1 L104.6,575.3 L105.3,574.6 L105.9,570.7 L106.6,573.9 L107.2,571.9 L107.9,573.4 L108.6,573.4 L109.2,570.4 L109.9,572.9 L110.5,572.8 L111.2,574.5 L111.9,571.4 L112.5,574.1 L113.2,571.5 L113.8,572.5 L114.5,571.8 L115.2,575.0 L115.8,573.8 L116.5,576.4 L117.1,573.8 L117.8,574.1 L118.5,574.1 L119.1,572.0 L119.8,572.8 L120.4,574.8 L121.1,572.3 L121.8,573.2 L122.4,572.9 L123.1,573.8 L123.7,572.4 L124.4,572.7 L125.1,573.2 L125.7,573.0 L126.4,571.7 L127.0,574.2 L127.7,571.0 L128.4,571.2 L129.0,571.1 L129.7,574.3 L130.3,572.4 L131.0,571.5 L131.7,571.3 L132.3,573.5 L133.0,571.4 L133.6,571.2 L134.3,574.2 L135.0,572.0 L135.6,573.7 L136.3,574.7 L136.9,574.5 L137.6,575.4 L138.3,577.6 L138.9,574.9 L139.6,573.5 L140.2,572.1 L140.9,573.7 L141.6,572.7 L142.2,572.9 L142.9,571.3 L143.5,570.9 L144.2,570.5 L144.9,570.8 L145.5,572.0 L146.2,571.4 L146.8,572.4 L147.5,575.3 L148.2,573.6 L148.8,571.0 L149.5,576.1 L150.1,574.4 L150.8,572.9 L151.5,575.8 L152.1,574.8 L152.8,574.0 L153.4,574.1 L154.1,573.6 L154.8,575.0 L155.4,576.4 L156.1,574.3 L156.7,575.2 L157.4,577.1 L158.1,572.4 L158.7,574.3 L159.4,573.3 L160.0,571.9 L160.7,571.7 L161.4,572.9 L162.0,573.3 L162.7,571.7 L163.3,572.3 L164.0,573.1 L164.7,572.3 L165.3,573.0 L166.0,572.3 L166.6,572.2 L167.3,574.1 L168.0,572.4 L168.6,571.9 L169.3,573.0 L169.9,571.0 L170.6,572.3 L171.3,574.3 L171.9,574.4 L172.6,576.1 L173.2,574.1 L173.9,572.2 L174.6,577.1 L175.2,575.8 L175.9,572.7 L176.5,576.2 L177.2,574.2 L177.9,571.5 L178.5,573.4 L179.2,573.1 L179.8,576.0 L180.5,572.5 L181.2,573.1 L181.8,573.0 L182.5,572.7 L183.1,571.8 L183.8,573.3 L184.5,574.4 L185.1,573.6 L185.8,571.3 L186.4,570.8 L187.1,572.5 L187.8,571.2 L188.4,571.2 L189.1,569.6 L189.7,574.7 L190.4,573.1 L191.1,570.3 L191.7,572.8 L192.4,573.3 L193.0,567.9 L193.7,570.4 L194.4,570.5 L195.0,571.8 L195.7,570.6 L196.3,570.4 L197.0,570.5 L197.7,573.2 L198.3,573.5 L199.0,569.6 L199.6,569.0 L200.3,574.1 L201.0,568.8 L201.6,569.4 L202.3,570.3 L202.9,570.9 L203.6,571.7 L204.3,570.8 L204.9,569.0 L205.6,570.9 L206.2,570.6 L206.9,572.9 L207.6,570.2 L208.2,568.3 L208.9,568.7 L209.5,572.3 L210.2,569.4 L210.9,567.2 L211.5,569.4 L212.2,570.2 L212.8,571.9 L213.5,568.7 L214.2,571.2 L214.8,571.3 L215.5,569.2 L216.1,569.9 L216.8,572.8 L217.5,572.8 L218.1,571.7 L218.8,571.0 L219.4,572.3 L220.1,570.7 L220.8,570.9 L221.4,570.0 L222.1,571.4 L222.7,571.5 L223.4,575.8 L224.1,571.7 L224.7,574.0 L225.4,574.3 L226.0,572.2 L226.7,574.3 L227.4,569.6 L228.0,573.0 L228.7,574.1 L229.3,569.5 L230.0,571.2 L230.7,574.4 L231.3,572.5 L232.0,571.3 L232.6,572.3 L233.3,572.0 L234.0,573.7 L234.6,573.3 L235.3,572.2 L235.9,571.5 L236.6,572.3 L237.3,574.2 L237.9,572.7 L238.6,573.1 L239.2,571.9 L239.9,570.1 L240.6,570.9 L241.2,572.7 L241.9,571.8 L242.5,570.3 L243.2,569.2 L243.9,571.5 L244.5,570.8 L245.2,570.7 L245.8,570.6 L246.5,571.3 L247.2,571.2 L247.8,572.0 L248.5,571.8 L249.1,572.2 L249.8,571.2 L250.5,569.4 L251.1,569.6 L251.8,570.2 L252.4,568.8 L253.1,569.8 L253.8,570.4 L254.4,567.3 L255.1,565.7 L255.7,569.6 L256.4,567.6 L257.1,568.3 L257.7,564.8 L258.4,568.4 L259.0,566.1 L259.7,563.9 L260.4,562.7 L261.0,562.7 L261.7,561.8 L262.3,561.5 L263.0,560.3 L263.7,563.9 L264.3,562.2 L265.0,562.6 L265.6,563.0 L266.3,559.8 L267.0,564.3 L267.6,563.4 L268.3,563.9 L268.9,565.2 L269.6,564.5 L270.3,568.1 L270.9,566.9 L271.6,567.5 L272.2,568.3 L272.9,570.3 L273.6,571.3 L274.2,569.6 L274.9,568.4 L275.5,572.2 L276.2,569.2 L276.9,572.6 L277.5,570.9 L278.2,570.0 L278.8,570.2 L279.5,571.8 L280.2,572.5 L280.8,571.0 L281.5,572.7 L282.1,574.3 L282.8,571.1 L283.5,569.8 L284.1,570.0 L284.8,569.5 L285.4,570.7 L286.1,570.6 L286.8,569.8 L287.4,572.5 L288.1,568.0 L288.7,569.9 L289.4,574.7 L290.1,573.4 L290.7,572.7 L291.4,572.6 L292.0,574.6 L292.7,572.8 L293.4,572.2 L294.0,570.4 L294.7,572.0 L295.3,571.1 L296.0,571.2 L296.7,571.2 L297.3,572.1 L298.0,571.7 L298.6,573.4 L299.3,570.3 L300.0,571.9 L300.6,574.8 L301.3,572.2 L301.9,573.8 L302.6,573.6 L303.3,573.8 L303.9,572.9 L304.6,569.8 L305.2,571.4 L305.9,571.1 L306.6,569.4 L307.2,570.8 L307.9,569.6 L308.5,568.9 L309.2,571.5 L309.9,571.0 L310.5,570.0 L311.2,569.5 L311.8,570.0 L312.5,570.1 L313.2,569.9 L313.8,570.3 L314.5,569.6 L315.1,570.5 L315.8,570.5 L316.5,570.1 L317.1,568.4 L317.8,568.2 L318.4,569.5 L319.1,568.4 L319.8,568.4 L320.4,564.7 L321.1,564.2 L321.7,568.4 L322.4,568.2 L323.1,569.5 L323.7,568.4 L324.4,567.5 L325.0,567.0 L325.7,564.7 L326.4,567.8 L327.0,565.4 L327.7,566.7 L328.3,566.0 L329.0,565.7 L329.7,566.0 L330.3,563.2 L331.0,562.3 L331.6,560.6 L332.3,560.1 L333.0,562.0 L333.6,558.1 L334.3,559.5 L334.9,558.3 L335.6,557.9 L336.3,558.0 L336.9,555.6 L337.6,558.0 L338.2,560.3 L338.9,557.6 L339.6,559.2 L340.2,559.0 L340.9,561.0 L341.5,559.5 L342.2,563.8 L342.9,561.4 L343.5,560.2 L344.2,565.4 L344.8,564.7 L345.5,564.4 L346.2,564.8 L346.8,563.9 L347.5,564.5 L348.1,566.2 L348.8,566.7 L349.5,567.0 L350.1,566.2 L350.8,565.5 L351.4,566.1 L352.1,568.2 L352.8,568.9 L353.4,566.6 L354.1,566.6 L354.7,569.2 L355.4,568.7 L356.1,568.8 L356.7,566.1 L357.4,567.6 L358.0,567.6 L358.7,568.8 L359.4,566.3 L360.0,570.7 L360.7,569.5 L361.3,569.9 L362.0,567.8 L362.7,569.6 L363.3,571.8 L364.0,567.8 L364.6,570.7 L365.3,571.5 L366.0,569.8 L366.6,572.2 L367.3,570.9 L367.9,573.4 L368.6,572.7 L369.3,572.5 L369.9,575.4 L370.6,574.0 L371.2,575.0 L371.9,571.7 L372.6,572.7 L373.2,575.1 L373.9,575.5 L374.5,574.3 L375.2,575.8 L375.9,573.3 L376.5,575.3 L377.2,573.6 L377.8,575.9 L378.5,574.8 L379.2,574.7 L379.8,575.7 L380.5,578.3 L381.1,574.2 L381.8,574.8 L382.5,577.1 L383.1,574.8 L383.8,577.8 L384.4,575.3 L385.1,574.9 L385.8,575.0 L386.4,576.8 L387.1,574.9 L387.7,574.4 L388.4,573.8 L389.1,570.9 L389.7,571.6 L390.4,574.8 L391.0,573.6 L391.7,573.0 L392.4,573.1 L393.0,571.3 L393.7,572.5 L394.3,570.7 L395.0,572.8 L395.7,571.5 L396.3,572.7 L397.0,574.1 L397.6,573.5 L398.3,575.5 L399.0,575.8 L399.6,576.2 L400.3,578.1 L400.9,574.5 L401.6,574.6 L402.3,578.0 L402.9,578.4 L403.6,580.0 L404.2,578.2 L404.9,578.2 L405.6,575.8 L406.2,578.1 L406.9,577.9 L407.5,575.4 L408.2,575.5 L408.9,576.6 L409.5,577.1 L410.2,572.4 L410.8,576.6 L411.5,576.8 L412.2,576.1 L412.8,576.7 L413.5,576.8 L414.1,574.6 L414.8,576.6 L415.5,575.5 L416.1,574.4 L416.8,576.0 L417.4,577.7 L418.1,573.4 L418.8,573.0 L419.4,572.9 L420.1,577.9 L420.7,574.7 L421.4,574.8 L422.1,573.7 L422.7,573.3 L423.4,571.6 L424.0,574.5 L424.7,574.4 L425.4,571.0 L426.0,572.1 L426.7,572.3 L427.3,573.1 L428.0,573.2 L428.7,574.2 L429.3,574.3 L430.0,573.6 L430.6,573.7 L431.3,569.9 L432.0,570.5 L432.6,572.7 L433.3,571.3 L433.9,570.7 L434.6,567.7 L435.3,567.7 L435.9,571.2 L436.6,570.6 L437.2,569.6 L437.9,569.3 L438.6,567.4 L439.2,570.4 L439.9,571.4 L440.5,572.2 L441.2,570.0 L441.9,569.6 L442.5,568.3 L443.2,571.6 L443.8,572.3 L444.5,569.0 L445.2,570.3 L445.8,570.0 L446.5,569.1 L447.1,566.3 L447.8,569.4 L448.5,570.8 L449.1,567.8 L449.8,568.7 L450.4,565.2 L451.1,571.7 L451.8,570.6 L452.4,570.0 L453.1,569.5 L453.7,569.0 L454.4,569.8 L455.1,569.5 L455.7,569.5 L456.4,569.9 L457.0,570.1 L457.7,572.1 L458.4,567.8 L459.0,570.2 L459.7,568.9 L460.3,568.1 L461.0,566.3 L461.7,570.4 L462.3,568.0 L463.0,568.2 L463.6,569.8 L464.3,567.4 L465.0,568.8 L465.6,568.5 L466.3,569.6 L466.9,569.7 L467.6,566.9 L468.3,569.2 L468.9,567.6 L469.6,567.7 L470.2,567.1 L470.9,568.3 L471.6,565.3 L472.2,567.3 L472.9,568.5 L473.5,566.2 L474.2,569.4 L474.9,565.4 L475.5,566.6 L476.2,565.6 L476.8,565.3 L477.5,564.6 L478.2,565.4 L478.8,566.2 L479.5,565.2 L480.1,567.7 L480.8,568.8 L481.5,564.6 L482.1,568.3 L482.8,567.6 L483.4,567.9 L484.1,571.4 L484.8,569.9 L485.4,568.9 L486.1,569.0 L486.7,565.9 L487.4,570.3 L488.1,568.3 L488.7,569.8 L489.4,569.9 L490.0,571.2 L490.7,572.8 L491.4,571.3 L492.0,571.5 L492.7,569.0 L493.3,569.6 L494.0,569.5 L494.7,565.7 L495.3,570.0 L496.0,565.3 L496.6,563.7 L497.3,567.2 L498.0,567.2 L498.6,562.5 L499.3,562.0 L499.9,566.9 L500.6,562.1 L501.3,558.6 L501.9,560.0 L502.6,563.3 L503.2,560.8 L503.9,560.5 L504.6,560.8 L505.2,559.7 L505.9,558.0 L506.5,556.1 L507.2,558.9 L507.9,556.8 L508.5,558.5 L509.2,561.3 L509.8,559.8 L510.5,559.5 L511.2,559.9 L511.8,561.2 L512.5,561.9 L513.1,559.1 L513.8,561.7 L514.5,564.3 L515.1,563.4 L515.8,561.5 L516.4,562.0 L517.1,560.4 L517.8,562.6 L518.4,566.4 L519.1,564.4 L519.7,563.6 L520.4,564.4 L521.1,565.5 L521.7,565.9 L522.4,565.9 L523.0,565.7 L523.7,568.1 L524.4,569.8 L525.0,567.1 L525.7,567.6 L526.3,570.4 L527.0,567.0 L527.7,568.7 L528.3,569.4 L529.0,570.7 L529.6,570.5 L530.3,570.0 L531.0,572.2 L531.6,570.4 L532.3,570.0 L532.9,569.9 L533.6,574.2 L534.3,570.9 L534.9,574.3 L535.6,574.8 L536.2,575.3 L536.9,574.1 L537.6,573.8 L538.2,574.9 L538.9,574.1 L539.5,573.3 L540.2,577.1 L540.9,574.2 L541.5,578.1 L542.2,576.4 L542.8,575.0 L543.5,576.3 L544.2,577.4 L544.8,573.5 L545.5,574.0 L546.1,573.6 L546.8,575.1 L547.5,575.2 L548.1,574.4 L548.8,573.0 L549.4,573.1 L550.1,575.3 L550.8,574.9 L551.4,573.3 L552.1,571.0 L552.7,573.6 L553.4,572.9 L554.1,572.6 L554.7,574.5 L555.4,573.0 L556.0,570.1 L556.7,569.9 L557.4,572.9 L558.0,570.9 L558.7,571.6 L559.3,569.8 L560.0,568.1 L560.7,569.5 L561.3,570.7 L562.0,568.2 L562.6,565.2 L563.3,565.3 L564.0,564.0 L564.6,563.8 L565.3,563.8 L565.9,564.0 L566.6,560.3 L567.3,558.2 L567.9,557.8 L568.6,556.5 L569.2,554.5 L569.9,553.9 L570.6,552.5 L571.2,549.4 L571.9,550.6 L572.5,547.9 L573.2,545.4 L573.9,545.7 L574.5,542.6 L575.2,544.3 L575.8,541.4 L576.5,540.4 L577.2,539.3 L577.8,539.9 L578.5,542.0 L579.1,540.1 L579.8,542.6 L580.5,538.9 L581.1,542.7 L581.8,544.2 L582.4,544.4 L583.1,545.2 L583.8,548.3 L584.4,547.4 L585.1,549.1 L585.7,553.0 L586.4,557.3 L587.1,559.2 L587.7,560.9 L588.4,563.6 L589.0,565.0 L589.7,563.8 L590.4,562.6 L591.0,566.1 L591.7,566.3 L592.3,568.4 L593.0,568.0 L593.7,568.9 L594.3,570.9 L595.0,570.4 L595.6,570.2 L596.3,572.4 L597.0,569.2 L597.6,569.0 L598.3,571.2 L598.9,567.5 L599.6,566.6 L600.3,570.6 L600.9,569.1 L601.6,569.5 L602.2,569.8 L602.9,570.6 L603.6,569.3 L604.2,570.5 L604.9,569.6 L605.5,571.9 L606.2,572.3 L606.9,571.3 L607.5,572.6 L608.2,575.2 L608.8,568.5 L609.5,570.5 L610.2,570.0 L610.8,569.6 L611.5,566.6 L612.1,569.5 L612.8,568.8 L613.5,567.8 L614.1,567.6 L614.8,568.6 L615.4,569.8 L616.1,569.9 L616.8,572.1 L617.4,568.6 L618.1,570.2 L618.7,569.0 L619.4,571.1 L620.1,570.8 L620.7,570.3 L621.4,570.0 L622.0,571.5 L622.7,573.6 L623.4,575.9 L624.0,575.4 L624.7,572.9 L625.3,574.0 L626.0,574.7 L626.7,574.3 L627.3,574.2 L628.0,574.9 L628.6,573.7 L629.3,572.0 L630.0,569.9 L630.6,571.9 L631.3,569.7 L631.9,571.8 L632.6,572.4 L633.3,570.1 L633.9,571.9 L634.6,571.8 L635.2,575.2 L635.9,573.3 L636.6,570.2 L637.2,573.7 L637.9,573.9 L638.5,573.2 L639.2,573.2 L639.9,574.7 L640.5,574.9 L641.2,574.6 L641.8,572.6 L642.5,573.6 L643.2,571.6 L643.8,571.5 L644.5,572.7 L645.1,571.7 L645.8,572.4 L646.5,576.2 L647.1,573.0 L647.8,570.7 L648.4,568.5 L649.1,570.1 L649.8,568.9 L650.4,567.4 L651.1,571.3 L651.7,569.2 L652.4,570.3 L653.1,573.8 L653.7,569.6 L654.4,569.2 L655.0,569.4 L655.7,568.5 L656.4,567.6 L657.0,568.5 L657.7,570.5 L658.3,568.5 L659.0,566.9 L659.7,567.1 L660.3,567.4 L661.0,568.9 L661.6,569.6 L662.3,569.6 L663.0,570.7 L663.6,568.7 L664.3,570.3 L664.9,569.6 L665.6,570.2 L666.3,566.6 L666.9,571.0 L667.6,567.1 L668.2,567.7 L668.9,570.5 L669.6,568.9 L670.2,572.0 L670.9,569.7 L671.5,568.1 L672.2,569.8 L672.9,569.1 L673.5,571.9 L674.2,572.0 L674.8,570.8 L675.5,569.2 L676.2,570.0 L676.8,571.4 L677.5,568.8 L678.1,568.9 L678.8,571.3 L679.5,571.2 L680.1,569.8 L680.8,569.9 L681.4,567.5 L682.1,572.1 L682.8,570.3 L683.4,568.5 L684.1,569.0 L684.7,569.4 L685.4,573.2 L686.1,571.9 L686.7,569.1 L687.4,573.7 L688.0,573.1 L688.7,569.8 L689.4,567.7 L690.0,573.1 L690.7,571.2 L691.3,572.1 L692.0,571.9 L692.7,574.8 L693.3,575.5 L694.0,574.8 L694.6,573.8 L695.3,574.7 L696.0,575.5 L696.6,572.6 L697.3,576.9 L697.9,574.8 L698.6,575.8 L699.3,575.7 L699.9,576.8 L700.6,577.0 L701.2,578.6 L701.9,574.9 L702.6,574.1 L703.2,575.6 L703.9,574.4 L704.5,576.5 L705.2,574.0 L705.9,575.3 L706.5,576.4 L707.2,576.4 L707.8,575.2 L708.5,576.8 L709.2,576.6 L709.8,572.2 L710.5,575.1 L711.1,574.8 L711.8,574.0 L712.5,573.5 L713.1,574.4 L713.8,574.8 L714.4,574.6 L715.1,576.1 L715.8,575.6 L716.4,573.3 L717.1,573.1 L717.7,575.4 L718.4,573.2 L719.1,574.4 L719.7,574.9 L720.4,575.7 L721.0,575.0 L721.7,576.3 L722.4,573.7 L723.0,575.3 L723.7,573.4 L724.3,574.7 L725.0,574.6 L725.7,573.2 L726.3,570.8 L727.0,576.0 L727.6,575.1 L728.3,574.9 L729.0,573.7 L729.6,574.3 L730.3,575.4 L730.9,574.8 L731.6,576.5 L732.3,575.0 L732.9,573.7 L733.6,575.7 L734.2,574.0 L734.9,575.1 L735.6,572.1 L736.2,574.1 L736.9,575.1 L737.5,573.2 L738.2,573.7 L738.9,574.3 L739.5,573.2 L740.2,575.3 L740.8,572.0 L741.5,571.8 L742.2,571.4 L742.8,568.5 L743.5,568.8 L744.1,571.5 L744.8,569.9 L745.5,572.1 L746.1,569.7 L746.8,569.2 L747.4,570.6 L748.1,569.2 L748.8,570.7 L749.4,566.6 L750.1,568.3 L750.7,568.2 L751.4,567.6 L752.1,568.0 L752.7,567.3 L753.4,565.3 L754.0,563.8 L754.7,565.3 L755.4,563.1 L756.0,563.4 L756.7,563.0 L757.3,560.3 L758.0,557.6 L758.7,557.5 L759.3,558.0 L760.0,555.6 L760.6,556.7 L761.3,554.1 L762.0,553.1 L762.6,551.0 L763.3,550.6 L763.9,551.2 L764.6,548.0 L765.3,546.9 L765.9,545.3 L766.6,546.6 L767.2,542.5 L767.9,543.0 L768.6,544.8 L769.2,545.2 L769.9,542.7 L770.5,544.4 L771.2,540.4 L771.9,544.7 L772.5,544.5 L773.2,542.8 L773.8,542.6 L774.5,545.2 L775.2,547.0 L775.8,547.9 L776.5,548.3 L777.1,550.4 L777.8,551.7 L778.5,550.4 L779.1,553.6 L779.8,555.2 L780.4,559.1 L781.1,558.4 L781.8,562.2 L782.4,562.6 L783.1,567.5 L783.7,565.5 L784.4,566.5 L785.1,566.7 L785.7,567.1 L786.4,570.4 L787.0,566.2 L787.7,565.6 L788.4,566.6 L789.0,567.8 L789.7,565.5 L790.3,568.0 L791.0,568.0 L791.7,566.6 L792.3,566.5 L793.0,565.7 L793.6,566.5 L794.3,565.7 L795.0,568.5 L795.6,568.9 L796.3,566.0 L796.9,566.1 L797.6,563.1 L798.3,564.7 L798.9,565.6 L799.6,565.1 L800.2,564.5 L800.9,565.2 L801.6,563.7 L802.2,562.6 L802.9,565.1 L803.5,559.8 L804.2,560.6 L804.9,561.0 L805.5,560.8 L806.2,560.7 L806.8,561.4 L807.5,560.8 L808.2,561.9 L808.8,563.0 L809.5,562.5 L810.1,563.0 L810.8,561.9 L811.5,562.1 L812.1,563.7 L812.8,566.0 L813.4,565.7 L814.1,567.2 L814.8,567.6 L815.4,568.3 L816.1,566.0 L816.7,569.3 L817.4,569.0 L818.1,571.1 L818.7,569.3 L819.4,569.1 L820.0,568.7 L820.7,569.4 L821.4,567.0 L822.0,569.2 L822.7,569.7 L823.3,571.4 L824.0,569.3 L824.7,570.6 L825.3,573.2 L826.0,570.0 L826.6,572.1 L827.3,570.2 L828.0,570.9 L828.6,571.8 L829.3,572.5 L829.9,570.5 L830.6,569.7 L831.3,573.3 L831.9,571.2 L832.6,571.9 L833.2,571.9 L833.9,571.4 L834.6,569.6 L835.2,569.5 L835.9,567.1 L836.5,569.2 L837.2,567.8 L837.9,568.0 L838.5,570.3 L839.2,568.1 L839.8,566.3 L840.5,563.2 L841.2,564.9 L841.8,564.7 L842.5,560.0 L843.1,560.4 L843.8,557.9 L844.5,557.5 L845.1,556.5 L845.8,554.5 L846.4,556.0 L847.1,554.6 L847.8,559.0 L848.4,558.7 L849.1,557.6 L849.7,558.1 L850.4,558.0 L851.1,558.3 L851.7,558.4 L852.4,557.7 L853.0,557.5 L853.7,555.5 L854.4,555.5 L855.0,555.7 L855.7,556.5 L856.3,555.4 L857.0,558.6 L857.7,556.0 L858.3,556.4 L859.0,558.4 L859.6,560.3 L860.3,562.6 L861.0,562.5 L861.6,561.3 L862.3,562.8 L862.9,565.4 L863.6,565.1 L864.3,566.8 L864.9,566.4 L865.6,569.7 L866.2,570.3 L866.9,570.8 L867.6,570.3 L868.2,568.7 L868.9,570.0 L869.5,573.2" stroke="#cc9705"/><path d="M78.2,632.2 L78.9,633.2 L79.5,625.3 L80.2,629.2 L80.8,631.0 L81.5,631.3 L82.2,629.7 L82.8,630.9 L83.5,628.5 L84.1,628.7 L84.8,627.8 L85.5,625.4 L86.1,625.7 L86.8,627.7 L87.4,626.0 L88.1,629.5 L88.8,630.3 L89.4,632.4 L90.1,630.4 L90.7,634.1 L91.4,630.8 L92.1,631.0 L92.7,632.5 L93.4,632.5 L94.0,628.8 L94.7,628.1 L95.4,631.3 L96.0,628.6 L96.7,631.8 L97.3,630.0 L98.0,629.6 L98.7,629.4 L99.3,630.6 L100.0,628.8 L100.6,631.1 L101.3,628.4 L102.0,629.1 L102.6,628.5 L103.3,630.9 L103.9,630.1 L104.6,628.6 L105.3,633.8 L105.9,629.7 L106.6,630.2 L107.2,630.9 L107.9,632.0 L108.6,626.8 L109.2,626.4 L109.9,624.0 L110.5,621.3 L111.2,629.2 L111.9,634.5 L112.5,634.1 L113.2,634.2 L113.8,631.0 L114.5,630.0 L115.2,630.9 L115.8,631.5 L116.5,628.2 L117.1,628.2 L117.8,628.2 L118.5,625.5 L119.1,625.4 L119.8,626.3 L120.4,621.0 L121.1,624.1 L121.8,619.0 L122.4,622.6 L123.1,621.6 L123.7,619.4 L124.4,616.7 L125.1,614.9 L125.7,613.5 L126.4,617.4 L127.0,619.4 L127.7,623.1 L128.4,620.2 L129.0,621.2 L129.7,620.8 L130.3,623.3 L131.0,618.1 L131.7,619.6 L132.3,622.1 L133.0,618.5 L133.6,617.3 L134.3,619.9 L135.0,620.0 L135.6,625.0 L136.3,625.3 L136.9,629.2 L137.6,630.1 L138.3,630.3 L138.9,625.9 L139.6,629.5 L140.2,624.5 L140.9,622.5 L141.6,622.7 L142.2,624.0 L142.9,622.8 L143.5,623.8 L144.2,623.5 L144.9,622.9 L145.5,621.5 L146.2,624.9 L146.8,617.5 L147.5,618.1 L148.2,620.0 L148.8,618.5 L149.5,616.0 L150.1,618.9 L150.8,618.9 L151.5,615.8 L152.1,621.6 L152.8,622.4 L153.4,622.4 L154.1,619.5 L154.8,620.9 L155.4,619.0 L156.1,621.7 L156.7,620.4 L157.4,622.7 L158.1,621.6 L158.7,624.3 L159.4,624.1 L160.0,625.0 L160.7,620.0 L161.4,619.4 L162.0,623.0 L162.7,620.8 L163.3,622.0 L164.0,621.2 L164.7,620.4 L165.3,621.0 L166.0,619.8 L166.6,619.1 L167.3,616.2 L168.0,620.5 L168.6,617.5 L169.3,619.5 L169.9,619.2 L170.6,622.4 L171.3,622.0 L171.9,623.6 L172.6,624.3 L173.2,622.9 L173.9,622.8 L174.6,623.0 L175.2,622.4 L175.9,620.0 L176.5,625.0 L177.2,618.3 L177.9,618.7 L178.5,622.9 L179.2,617.0 L179.8,619.3 L180.5,619.2 L181.2,617.6 L181.8,615.5 L182.5,615.3 L183.1,618.0 L183.8,618.8 L184.5,614.3 L185.1,618.4 L185.8,617.1 L186.4,619.8 L187.1,618.6 L187.8,617.0 L188.4,617.7 L189.1,618.6 L189.7,620.9 L190.4,624.0 L191.1,619.4 L191.7,619.4 L192.4,621.0 L193.0,620.6 L193.7,622.7 L194.4,623.2 L195.0,623.5 L195.7,623.0 L196.3,625.4 L197.0,627.2 L197.7,625.9 L198.3,628.4 L199.0,627.2 L199.6,625.1 L200.3,628.1 L201.0,622.7 L201.6,626.3 L202.3,627.1 L202.9,623.0 L203.6,622.9 L204.3,624.3 L204.9,624.8 L205.6,622.8 L206.2,622.3 L206.9,623.3 L207.6,622.2 L208.2,619.7 L208.9,621.6 L209.5,622.0 L210.2,619.6 L210.9,623.2 L211.5,621.4 L212.2,624.3 L212.8,620.6 L213.5,621.8 L214.2,621.0 L214.8,625.9 L215.5,625.9 L216.1,626.2 L216.8,626.0 L217.5,624.6 L218.1,624.0 L218.8,618.9 L219.4,621.8 L220.1,619.7 L220.8,619.3 L221.4,617.2 L222.1,621.1 L222.7,618.7 L223.4,615.6 L224.1,619.1 L224.7,618.1 L225.4,616.5 L226.0,618.0 L226.7,617.4 L227.4,615.0 L228.0,616.7 L228.7,620.7 L229.3,620.8 L230.0,621.7 L230.7,620.9 L231.3,623.6 L232.0,625.7 L232.6,626.8 L233.3,624.1 L234.0,623.7 L234.6,627.5 L235.3,625.6 L235.9,624.7 L236.6,624.0 L237.3,624.1 L237.9,628.0 L238.6,626.9 L239.2,624.4 L239.9,622.8 L240.6,627.9 L241.2,627.7 L241.9,627.0 L242.5,626.4 L243.2,621.6 L243.9,622.6 L244.5,626.0 L245.2,624.5 L245.8,625.6 L246.5,624.3 L247.2,624.2 L247.8,626.4 L248.5,624.9 L249.1,625.8 L249.8,626.4 L250.5,626.5 L251.1,628.3 L251.8,628.8 L252.4,624.1 L253.1,626.1 L253.8,625.6 L254.4,628.2 L255.1,625.0 L255.7,628.3 L256.4,628.2 L257.1,628.0 L257.7,625.1 L258.4,626.2 L259.0,624.4 L259.7,626.5 L260.4,627.0 L261.0,622.1 L261.7,622.7 L262.3,623.2 L263.0,622.0 L263.7,624.9 L264.3,621.5 L265.0,621.7 L265.6,618.8 L266.3,623.2 L267.0,620.5 L267.6,621.5 L268.3,620.2 L268.9,616.4 L269.6,617.3 L270.3,617.9 L270.9,621.0 L271.6,619.3 L272.2,620.9 L272.9,620.7 L273.6,620.7 L274.2,621.9 L274.9,620.6 L275.5,617.4 L276.2,619.1 L276.9,623.3 L277.5,618.5 L278.2,622.8 L278.8,623.4 L279.5,619.5 L280.2,621.2 L280.8,618.1 L281.5,622.0 L282.1,619.3 L282.8,618.4 L283.5,620.1 L284.1,620.0 L284.8,619.8 L285.4,621.2 L286.1,620.6 L286.8,619.8 L287.4,622.7 L288.1,625.3 L288.7,621.2 L289.4,619.9 L290.1,619.5 L290.7,622.3 L291.4,620.9 L292.0,621.4 L292.7,617.9 L293.4,619.5 L294.0,619.5 L294.7,623.3 L295.3,621.3 L296.0,617.4 L296.7,622.8 L297.3,624.0 L298.0,624.4 L298.6,617.3 L299.3,622.6 L300.0,623.9 L300.6,623.8 L301.3,622.5 L301.9,620.0 L302.6,622.7 L303.3,623.2 L303.9,625.0 L304.6,625.4 L305.2,624.1 L305.9,626.3 L306.6,623.2 L307.2,624.2 L307.9,625.5 L308.5,626.8 L309.2,625.4 L309.9,628.3 L310.5,626.9 L311.2,624.6 L311.8,626.5 L312.5,624.6 L313.2,624.1 L313.8,622.8 L314.5,627.1 L315.1,625.4 L315.8,620.2 L316.5,624.2 L317.1,623.1 L317.8,620.1 L318.4,621.0 L319.1,623.6 L319.8,619.9 L320.4,620.2 L321.1,621.5 L321.7,617.8 L322.4,617.6 L323.1,617.7 L323.7,620.3 L324.4,622.3 L325.0,619.7 L325.7,619.1 L326.4,622.3 L327.0,621.6 L327.7,623.7 L328.3,622.7 L329.0,622.9 L329.7,623.2 L330.3,623.6 L331.0,621.9 L331.6,621.5 L332.3,626.1 L333.0,628.5 L333.6,624.7 L334.3,619.4 L334.9,621.9 L335.6,623.4 L336.3,618.0 L336.9,619.5 L337.6,619.2 L338.2,617.9 L338.9,617.7 L339.6,620.7 L340.2,618.0 L340.9,618.4 L341.5,622.0 L342.2,617.7 L342.9,616.1 L343.5,621.0 L344.2,623.8 L344.8,621.1 L345.5,621.7 L346.2,619.3 L346.8,620.2 L347.5,624.8 L348.1,624.7 L348.8,623.8 L349.5,621.9 L350.1,621.1 L350.8,621.7 L351.4,621.7 L352.1,625.0 L352.8,622.7 L353.4,623.3 L354.1,625.5 L354.7,625.4 L355.4,624.2 L356.1,624.8 L356.7,623.7 L357.4,620.0 L358.0,622.9 L358.7,622.0 L359.4,621.9 L360.0,622.7 L360.7,621.2 L361.3,624.3 L362.0,622.2 L362.7,623.7 L363.3,625.1 L364.0,625.3 L364.6,627.7 L365.3,628.3 L366.0,627.2 L366.6,622.2 L367.3,618.9 L367.9,617.7 L368.6,618.7 L369.3,615.4 L369.9,617.3 L370.6,616.9 L371.2,617.9 L371.9,617.7 L372.6,621.0 L373.2,620.6 L373.9,621.9 L374.5,618.8 L375.2,619.5 L375.9,621.2 L376.5,625.9 L377.2,627.5 L377.8,625.1 L378.5,628.9 L379.2,632.9 L379.8,628.6 L380.5,631.5 L381.1,635.5 L381.8,635.7 L382.5,633.6 L383.1,638.5 L383.8,637.7 L384.4,637.3 L385.1,634.0 L385.8,636.0 L386.4,638.7 L387.1,637.3 L387.7,637.9 L388.4,636.0 L389.1,639.2 L389.7,636.1 L390.4,638.2 L391.0,637.2 L391.7,634.9 L392.4,639.2 L393.0,634.3 L393.7,635.2 L394.3,636.7 L395.0,634.0 L395.7,633.2 L396.3,636.1 L397.0,635.5 L397.6,635.7 L398.3,637.0 L399.0,640.0 L399.6,635.3 L400.3,640.3 L400.9,636.3 L401.6,635.7 L402.3,631.1 L402.9,633.2 L403.6,636.3 L404.2,636.8 L404.9,634.4 L405.6,636.4 L406.2,637.4 L406.9,634.8 L407.5,633.0 L408.2,634.1 L408.9,635.3 L409.5,636.3 L410.2,637.2 L410.8,634.2 L411.5,635.8 L412.2,635.2 L412.8,635.5 L413.5,637.1 L414.1,637.1 L414.8,633.6 L415.5,633.1 L416.1,632.6 L416.8,632.6 L417.4,632.6 L418.1,632.8 L418.8,632.2 L419.4,631.2 L420.1,631.4 L420.7,634.1 L421.4,639.0 L422.1,636.5 L422.7,637.3 L423.4,637.4 L424.0,636.9 L424.7,640.7 L425.4,636.3 L426.0,634.4 L426.7,632.9 L427.3,634.2 L428.0,630.8 L428.7,629.7 L429.3,628.5 L430.0,626.7 L430.6,628.3 L431.3,624.1 L432.0,630.1 L432.6,620.3 L433.3,621.9 L433.9,623.8 L434.6,623.9 L435.3,622.3 L435.9,623.2 L436.6,622.7 L437.2,621.3 L437.9,616.6 L438.6,614.6 L439.2,617.0 L439.9,621.4 L440.5,626.9 L441.2,626.0 L441.9,627.2 L442.5,628.7 L443.2,626.2 L443.8,627.1 L444.5,623.7 L445.2,624.4 L445.8,624.2 L446.5,623.2 L447.1,623.2 L447.8,624.4 L448.5,621.1 L449.1,620.3 L449.8,622.2 L450.4,619.6 L451.1,623.0 L451.8,626.2 L452.4,625.1 L453.1,627.1 L453.7,627.7 L454.4,629.6 L455.1,628.5 L455.7,627.9 L456.4,621.6 L457.0,626.4 L457.7,628.5 L458.4,626.8 L459.0,625.5 L459.7,628.2 L460.3,624.8 L461.0,625.5 L461.7,627.1 L462.3,624.7 L463.0,625.7 L463.6,625.1 L464.3,622.8 L465.0,623.7 L465.6,623.8 L466.3,623.0 L466.9,625.8 L467.6,623.6 L468.3,622.2 L468.9,620.6 L469.6,622.2 L470.2,624.8 L470.9,621.7 L471.6,623.2 L472.2,622.4 L472.9,620.4 L473.5,619.3 L474.2,621.5 L474.9,617.1 L475.5,620.7 L476.2,617.1 L476.8,620.3 L477.5,617.8 L478.2,618.0 L478.8,619.8 L479.5,616.1 L480.1,618.2 L480.8,618.4 L481.5,621.0 L482.1,622.8 L482.8,623.5 L483.4,624.8 L484.1,624.8 L484.8,627.2 L485.4,625.8 L486.1,626.4 L486.7,626.5 L487.4,623.8 L488.1,624.2 L488.7,626.6 L489.4,626.2 L490.0,628.4 L490.7,622.0 L491.4,626.6 L492.0,628.1 L492.7,626.4 L493.3,627.6 L494.0,626.3 L494.7,626.1 L495.3,627.8 L496.0,624.0 L496.6,622.3 L497.3,627.1 L498.0,626.5 L498.6,626.4 L499.3,626.7 L499.9,627.3 L500.6,625.4 L501.3,627.1 L501.9,626.8 L502.6,624.1 L503.2,625.6 L503.9,626.0 L504.6,623.8 L505.2,626.5 L505.9,623.7 L506.5,625.2 L507.2,625.8 L507.9,620.2 L508.5,620.1 L509.2,623.0 L509.8,621.4 L510.5,622.4 L511.2,624.5 L511.8,620.7 L512.5,623.3 L513.1,621.7 L513.8,621.4 L514.5,623.9 L515.1,624.0 L515.8,625.9 L516.4,624.9 L517.1,626.2 L517.8,625.8 L518.4,621.9 L519.1,623.8 L519.7,623.1 L520.4,624.3 L521.1,619.8 L521.7,620.8 L522.4,618.6 L523.0,615.0 L523.7,617.1 L524.4,617.9 L525.0,616.0 L525.7,618.3 L526.3,617.4 L527.0,617.3 L527.7,616.1 L528.3,616.8 L529.0,618.2 L529.6,617.7 L530.3,615.8 L531.0,618.1 L531.6,620.4 L532.3,623.5 L532.9,625.2 L533.6,624.2 L534.3,629.3 L534.9,627.1 L535.6,631.0 L536.2,632.8 L536.9,638.3 L537.6,637.0 L538.2,635.8 L538.9,633.1 L539.5,635.1 L540.2,631.2 L540.9,631.6 L541.5,632.3 L542.2,630.0 L542.8,631.9 L543.5,628.1 L544.2,633.3 L544.8,630.1 L545.5,634.6 L546.1,635.1 L546.8,636.1 L547.5,639.8 L548.1,631.5 L548.8,636.5 L549.4,634.2 L550.1,634.8 L550.8,632.4 L551.4,630.4 L552.1,627.7 L552.7,626.0 L553.4,627.1 L554.1,623.7 L554.7,628.4 L555.4,625.7 L556.0,627.8 L556.7,625.3 L557.4,628.6 L558.0,627.7 L558.7,629.8 L559.3,630.9 L560.0,628.0 L560.7,629.2 L561.3,629.1 L562.0,630.2 L562.6,623.7 L563.3,625.1 L564.0,621.8 L564.6,617.6 L565.3,617.2 L565.9,615.1 L566.6,617.2 L567.3,613.2 L567.9,616.5 L568.6,613.8 L569.2,615.8 L569.9,611.5 L570.6,613.1 L571.2,614.6 L571.9,612.6 L572.5,611.2 L573.2,613.1 L573.9,613.0 L574.5,609.9 L575.2,607.9 L575.8,607.6 L576.5,605.5 L577.2,607.9 L577.8,608.5 L578.5,605.0 L579.1,609.8 L579.8,610.1 L580.5,610.4 L581.1,612.1 L581.8,614.4 L582.4,616.1 L583.1,616.3 L583.8,613.8 L584.4,617.3 L585.1,612.7 L585.7,617.9 L586.4,618.2 L587.1,619.4 L587.7,616.8 L588.4,621.5 L589.0,621.9 L589.7,620.6 L590.4,618.4 L591.0,622.1 L591.7,620.6 L592.3,619.9 L593.0,622.1 L593.7,628.2 L594.3,622.1 L595.0,624.8 L595.6,626.4 L596.3,628.4 L597.0,625.6 L597.6,626.1 L598.3,629.9 L598.9,629.1 L599.6,631.1 L600.3,627.0 L600.9,628.8 L601.6,630.6 L602.2,629.2 L602.9,627.0 L603.6,629.2 L604.2,625.7 L604.9,627.6 L605.5,630.3 L606.2,630.6 L606.9,629.7 L607.5,630.2 L608.2,626.3 L608.8,627.8 L609.5,630.8 L610.2,633.2 L610.8,630.3 L611.5,628.5 L612.1,629.0 L612.8,633.6 L613.5,634.1 L614.1,630.9 L614.8,634.1 L615.4,637.0 L616.1,637.6 L616.8,634.7 L617.4,635.6 L618.1,636.9 L618.7,634.1 L619.4,632.9 L620.1,634.1 L620.7,636.9 L621.4,636.0 L622.0,634.3 L622.7,630.7 L623.4,628.6 L624.0,629.6 L624.7,630.9 L625.3,632.2 L626.0,628.4 L626.7,630.0 L627.3,626.7 L628.0,626.2 L628.6,630.0 L629.3,628.2 L630.0,628.7 L630.6,626.8 L631.3,632.5 L631.9,628.1 L632.6,631.6 L633.3,629.2 L633.9,631.3 L634.6,634.5 L635.2,632.7 L635.9,632.5 L636.6,633.7 L637.2,632.8 L637.9,633.9 L638.5,628.4 L639.2,632.7 L639.9,629.9 L640.5,627.3 L641.2,629.5 L641.8,628.8 L642.5,627.2 L643.2,628.2 L643.8,623.8 L644.5,622.6 L645.1,623.8 L645.8,626.0 L646.5,624.3 L647.1,622.6 L647.8,620.8 L648.4,621.2 L649.1,622.7 L649.8,619.0 L650.4,618.5 L651.1,619.8 L651.7,619.9 L652.4,618.8 L653.1,620.9 L653.7,618.8 L654.4,616.8 L655.0,614.9 L655.7,621.1 L656.4,619.1 L657.0,620.4 L657.7,621.1 L658.3,623.1 L659.0,623.1 L659.7,623.6 L660.3,622.9 L661.0,622.5 L661.6,623.9 L662.3,622.4 L663.0,625.0 L663.6,626.9 L664.3,626.9 L664.9,626.6 L665.6,625.5 L666.3,626.2 L666.9,627.2 L667.6,628.4 L668.2,630.4 L668.9,631.0 L669.6,631.5 L670.2,632.5 L670.9,629.1 L671.5,629.5 L672.2,628.5 L672.9,626.0 L673.5,620.7 L674.2,619.1 L674.8,622.3 L675.5,621.7 L676.2,621.6 L676.8,620.7 L677.5,620.0 L678.1,622.2 L678.8,623.4 L679.5,624.3 L680.1,625.5 L680.8,624.7 L681.4,627.2 L682.1,624.7 L682.8,626.1 L683.4,625.6 L684.1,622.0 L684.7,622.0 L685.4,622.3 L686.1,622.2 L686.7,621.0 L687.4,621.2 L688.0,617.4 L688.7,615.5 L689.4,615.4 L690.0,611.8 L690.7,613.0 L691.3,611.5 L692.0,613.8 L692.7,613.5 L693.3,615.4 L694.0,621.1 L694.6,621.5 L695.3,625.6 L696.0,623.3 L696.6,624.7 L697.3,626.1 L697.9,629.8 L698.6,629.0 L699.3,633.7 L699.9,633.3 L700.6,631.7 L701.2,630.4 L701.9,631.1 L702.6,630.9 L703.2,630.4 L703.9,626.5 L704.5,628.3 L705.2,628.2 L705.9,631.2 L706.5,627.9 L707.2,628.9 L707.8,626.1 L708.5,627.3 L709.2,626.1 L709.8,626.0 L710.5,628.4 L711.1,627.2 L711.8,630.2 L712.5,627.6 L713.1,628.5 L713.8,625.7 L714.4,626.1 L715.1,629.1 L715.8,626.8 L716.4,630.3 L717.1,626.6 L717.7,626.5 L718.4,631.5 L719.1,625.0 L719.7,626.9 L720.4,628.3 L721.0,627.9 L721.7,624.3 L722.4,629.4 L723.0,624.1 L723.7,620.9 L724.3,625.2 L725.0,622.2 L725.7,622.7 L726.3,623.5 L727.0,620.4 L727.6,620.8 L728.3,622.1 L729.0,624.2 L729.6,621.0 L730.3,626.6 L730.9,625.5 L731.6,623.8 L732.3,626.7 L732.9,628.6 L733.6,630.6 L734.2,630.8 L734.9,631.9 L735.6,630.2 L736.2,632.1 L736.9,626.5 L737.5,633.2 L738.2,631.7 L738.9,634.8 L739.5,631.2 L740.2,631.7 L740.8,632.9 L741.5,634.4 L742.2,633.8 L742.8,635.2 L743.5,633.7 L744.1,635.6 L744.8,638.8 L745.5,636.2 L746.1,635.2 L746.8,631.7 L747.4,635.4 L748.1,636.2 L748.8,634.0 L749.4,636.0 L750.1,630.0 L750.7,632.2 L751.4,631.2 L752.1,633.2 L752.7,630.2 L753.4,629.2 L754.0,632.7 L754.7,626.8 L755.4,629.5 L756.0,629.8 L756.7,626.7 L757.3,625.0 L758.0,625.7 L758.7,624.6 L759.3,623.9 L760.0,625.4 L760.6,624.7 L761.3,630.1 L762.0,626.6 L762.6,624.5 L763.3,625.0 L763.9,626.8 L764.6,625.7 L765.3,623.5 L765.9,621.9 L766.6,626.2 L767.2,622.9 L767.9,623.1 L768.6,624.8 L769.2,622.5 L769.9,624.2 L770.5,621.0 L771.2,621.4 L771.9,620.2 L772.5,623.7 L773.2,616.9 L773.8,618.6 L774.5,616.9 L775.2,616.7 L775.8,615.3 L776.5,615.7 L777.1,619.0 L777.8,619.3 L778.5,615.6 L779.1,614.7 L779.8,616.3 L780.4,620.5 L781.1,618.1 L781.8,615.1 L782.4,621.1 L783.1,620.3 L783.7,622.5 L784.4,623.0 L785.1,620.9 L785.7,626.0 L786.4,626.7 L787.0,626.0 L787.7,625.0 L788.4,628.8 L789.0,630.4 L789.7,634.8 L790.3,633.2 L791.0,633.5 L791.7,634.2 L792.3,633.3 L793.0,634.5 L793.6,634.2 L794.3,635.0 L795.0,630.8 L795.6,633.3 L796.3,631.8 L796.9,635.6 L797.6,634.0 L798.3,630.3 L798.9,632.2 L799.6,627.0 L800.2,627.8 L800.9,628.7 L801.6,629.2 L802.2,626.2 L802.9,627.5 L803.5,628.9 L804.2,623.1 L804.9,622.7 L805.5,620.8 L806.2,625.3 L806.8,620.5 L807.5,620.9 L808.2,619.2 L808.8,619.9 L809.5,618.9 L810.1,619.3 L810.8,619.0 L811.5,621.3 L812.1,616.8 L812.8,618.8 L813.4,618.3 L814.1,616.9 L814.8,620.0 L815.4,621.8 L816.1,616.8 L816.7,623.1 L817.4,618.6 L818.1,618.9 L818.7,614.6 L819.4,619.4 L820.0,619.2 L820.7,619.2 L821.4,621.0 L822.0,619.7 L822.7,621.0 L823.3,619.9 L824.0,620.2 L824.7,623.8 L825.3,626.1 L826.0,627.7 L826.6,627.9 L827.3,627.3 L828.0,629.2 L828.6,629.2 L829.3,627.8 L829.9,631.1 L830.6,630.5 L831.3,629.3 L831.9,631.1 L832.6,633.0 L833.2,634.8 L833.9,629.3 L834.6,632.1 L835.2,633.9 L835.9,635.1 L836.5,633.9 L837.2,631.5 L837.9,632.4 L838.5,633.2 L839.2,631.8 L839.8,631.2 L840.5,630.5 L841.2,636.9 L841.8,632.1 L842.5,631.1 L843.1,632.3 L843.8,630.6 L844.5,629.7 L845.1,629.8 L845.8,627.4 L846.4,627.5 L847.1,629.2 L847.8,628.1 L848.4,624.5 L849.1,628.5 L849.7,624.7 L850.4,622.1 L851.1,625.8 L851.7,625.4 L852.4,624.5 L853.0,622.1 L853.7,625.8 L854.4,624.7 L855.0,625.1 L855.7,626.0 L856.3,627.7 L857.0,632.4 L857.7,629.0 L858.3,631.5 L859.0,633.6 L859.6,633.1 L860.3,630.3 L861.0,631.3 L861.6,630.6 L862.3,628.5 L862.9,630.4 L863.6,632.1 L864.3,630.5 L864.9,631.6 L865.6,630.0 L866.2,627.6 L866.9,629.4 L867.6,625.0 L868.2,629.9 L868.9,626.7 L869.5,630.0" stroke="#05ccce"/></g>
<rect x="77.5" y="14.5" width="793.0" height="641.0" fill="none" stroke="#000" stroke-width="3.4"/>
<g stroke="#000" stroke-width="3"><line x1="77.5" y1="655.5" x2="77.5" y2="669.5"/><line x1="342.0" y1="655.5" x2="342.0" y2="669.5"/><line x1="606.5" y1="655.5" x2="606.5" y2="669.5"/><line x1="871.0" y1="655.5" x2="871.0" y2="669.5"/><line x1="209.8" y1="655.5" x2="209.8" y2="662.5"/><line x1="474.2" y1="655.5" x2="474.2" y2="662.5"/><line x1="738.8" y1="655.5" x2="738.8" y2="662.5"/><line x1="64.5" y1="655.5" x2="77.5" y2="655.5"/></g>
<g font-size="30"><text transform="translate(77.5,702.5) scale(1.0,1.1)" text-anchor="middle">1000</text><text transform="translate(342.0,702.5) scale(1.0,1.1)" text-anchor="middle">1200</text><text transform="translate(606.5,702.5) scale(1.0,1.1)" text-anchor="middle">1400</text><text transform="translate(871.0,702.5) scale(1.0,1.1)" text-anchor="middle">1600</text><text transform="translate(54.6,666.0) scale(1.0,1.1)" text-anchor="end">0</text></g>
<text x="-1.5" y="29.5" font-size="43" stroke="#111" stroke-width="0.9">(a)</text>
<text font-size="40" transform="translate(30.6,429.6) rotate(-90) scale(1.005,1.067)">Intensity (a.u.)</text>
<text x="324" y="752" font-size="40">Raman shift (cm<tspan dy="-17.5" font-size="26">-1</tspan><tspan dy="17.5">)</tspan></text>
<g font-size="30"><line x1="271.5" y1="56.2" x2="339" y2="56.2" stroke="#f94141" stroke-width="4.1" stroke-linecap="round"/><text transform="translate(347.3,67.1) scale(0.98,1.08)">10<tspan dy="-11.2" font-size="20">-6</tspan><tspan dy="11.2"> M</tspan></text><line x1="271.5" y1="97.4" x2="339" y2="97.4" stroke="#1a68de" stroke-width="4.1" stroke-linecap="round"/><text transform="translate(347.3,108.1) scale(0.98,1.08)">10<tspan dy="-11.2" font-size="20">-7</tspan><tspan dy="11.2"> M</tspan></text><line x1="271.5" y1="138.6" x2="339" y2="138.6" stroke="#22a35c" stroke-width="4.1" stroke-linecap="round"/><text transform="translate(347.3,149.0) scale(0.98,1.08)">10<tspan dy="-11.2" font-size="20">-8</tspan><tspan dy="11.2"> M</tspan></text><line x1="271.5" y1="180" x2="339" y2="180" stroke="#b06ade" stroke-width="4.1" stroke-linecap="round"/><text transform="translate(347.3,190.0) scale(0.98,1.08)">10<tspan dy="-11.2" font-size="20">-9</tspan><tspan dy="11.2"> M</tspan></text><line x1="271.5" y1="220.2" x2="339" y2="220.2" stroke="#cc9705" stroke-width="4.1" stroke-linecap="round"/><text transform="translate(347.3,230.9) scale(0.98,1.08)">5×10<tspan dy="-11.2" font-size="20">-10</tspan><tspan dy="11.2"> M</tspan></text><line x1="271.5" y1="262.2" x2="339" y2="262.2" stroke="#05ccce" stroke-width="4.1" stroke-linecap="round"/><text transform="translate(347.3,271.9) scale(0.98,1.08)">10<tspan dy="-11.2" font-size="20">-10</tspan><tspan dy="11.2"> M</tspan></text></g>
<line x1="619.9" y1="95.8" x2="619.9" y2="194.3" stroke="#222" stroke-width="3.1"/>
<text transform="translate(630.2,158.8) scale(0.97,1.04)" font-size="37">1000</text>
<text x="828.6" y="616.8" font-size="27" fill="#555">×<tspan font-size="28.5" fill="#222">2</tspan></text>
<!-- panel b -->
<text x="889.4" y="35.5" font-size="42.3" stroke="#111" stroke-width="0.9">(b)</text>
<rect x="1027.5" y="17" width="786.7" height="635.3" fill="none" stroke="#000" stroke-width="3.4"/>
<g stroke="#000" stroke-width="3"><line x1="1014" y1="57.5" x2="1027.5" y2="57.5"/><line x1="1014" y1="266.9" x2="1027.5" y2="266.9"/><line x1="1014" y1="476.3" x2="1027.5" y2="476.3"/><line x1="1020" y1="162.2" x2="1027.5" y2="162.2"/><line x1="1020" y1="371.6" x2="1027.5" y2="371.6"/><line x1="1020" y1="581.0" x2="1027.5" y2="581.0"/><line x1="1080.4" y1="652.3" x2="1080.4" y2="664.5"/><line x1="1306.8" y1="652.3" x2="1306.8" y2="664.5"/><line x1="1533.2" y1="652.3" x2="1533.2" y2="664.5"/><line x1="1759.6" y1="652.3" x2="1759.6" y2="664.5"/><line x1="1193.6" y1="652.3" x2="1193.6" y2="658.5"/><line x1="1420.0" y1="652.3" x2="1420.0" y2="658.5"/><line x1="1646.4" y1="652.3" x2="1646.4" y2="658.5"/></g>
<g font-size="30"><text transform="translate(1007.0,66.9) scale(1.0,1.06)" text-anchor="end">1500</text><text transform="translate(1007.0,276.3) scale(1.0,1.06)" text-anchor="end">1000</text><text transform="translate(1007.0,485.7) scale(1.0,1.06)" text-anchor="end">500</text><text transform="translate(1080.4,697.0) scale(1.0,1.05)" text-anchor="middle">-10</text><text transform="translate(1306.8,697.0) scale(1.0,1.05)" text-anchor="middle">-9</text><text transform="translate(1533.2,697.0) scale(1.0,1.05)" text-anchor="middle">-8</text><text transform="translate(1759.6,697.0) scale(1.0,1.05)" text-anchor="middle">-7</text></g>
<g clip-path="url(#cb)"><text font-size="35.8" transform="translate(929,415.7) rotate(-90) scale(1,1.06)">Intensity (a.u.)</text></g>
<text x="1313" y="737" font-size="47">log (C<tspan dy="10" font-size="32">thiram</tspan><tspan dy="-10">)</tspan></text>
<text transform="translate(1159,118.6) scale(1,1.035)" font-size="42">R<tspan dy="-18.5" font-size="28">2</tspan><tspan dy="18.5">=0.967</tspan></text>
<g stroke="#8800ff" stroke-width="3.4" fill="none"><path d="M1080.9,602.6 V617.0"/><path d="M1239.6,508.4 V535.3"/><path d="M1307.7,457.7 V503.3"/><path d="M1533.5,305.4 V365.2"/><path d="M1759.9,42.3 V119.9"/></g>
<g fill="#000"><rect x="1074.1" y="603.0" width="13.6" height="13.6"/><rect x="1232.8" y="515.4" width="13.6" height="13.6"/><rect x="1300.9" y="473.5" width="13.6" height="13.6"/><rect x="1526.7" y="328.2" width="13.6" height="13.6"/><rect x="1753.1" y="73.8" width="13.6" height="13.6"/></g>
<g stroke="#8800ff" stroke-width="3.4" fill="none"><path d="M1073.9,602.6 H1087.9 M1073.9,617.0 H1087.9"/><path d="M1232.6,508.4 H1246.6 M1232.6,535.3 H1246.6"/><path d="M1300.7,457.7 H1314.7 M1300.7,503.3 H1314.7"/><path d="M1526.5,305.4 H1540.5 M1526.5,365.2 H1540.5"/><path d="M1752.9,42.3 H1766.9 M1752.9,119.9 H1766.9"/></g>
<line x1="1080.7" y1="617" x2="1756.1" y2="158.1" stroke="#ff0000" stroke-width="3.7" stroke-dasharray="9.9 18.8" stroke-dashoffset="-0.6" stroke-linecap="round"/>
</g>
</svg>
</body></html>
